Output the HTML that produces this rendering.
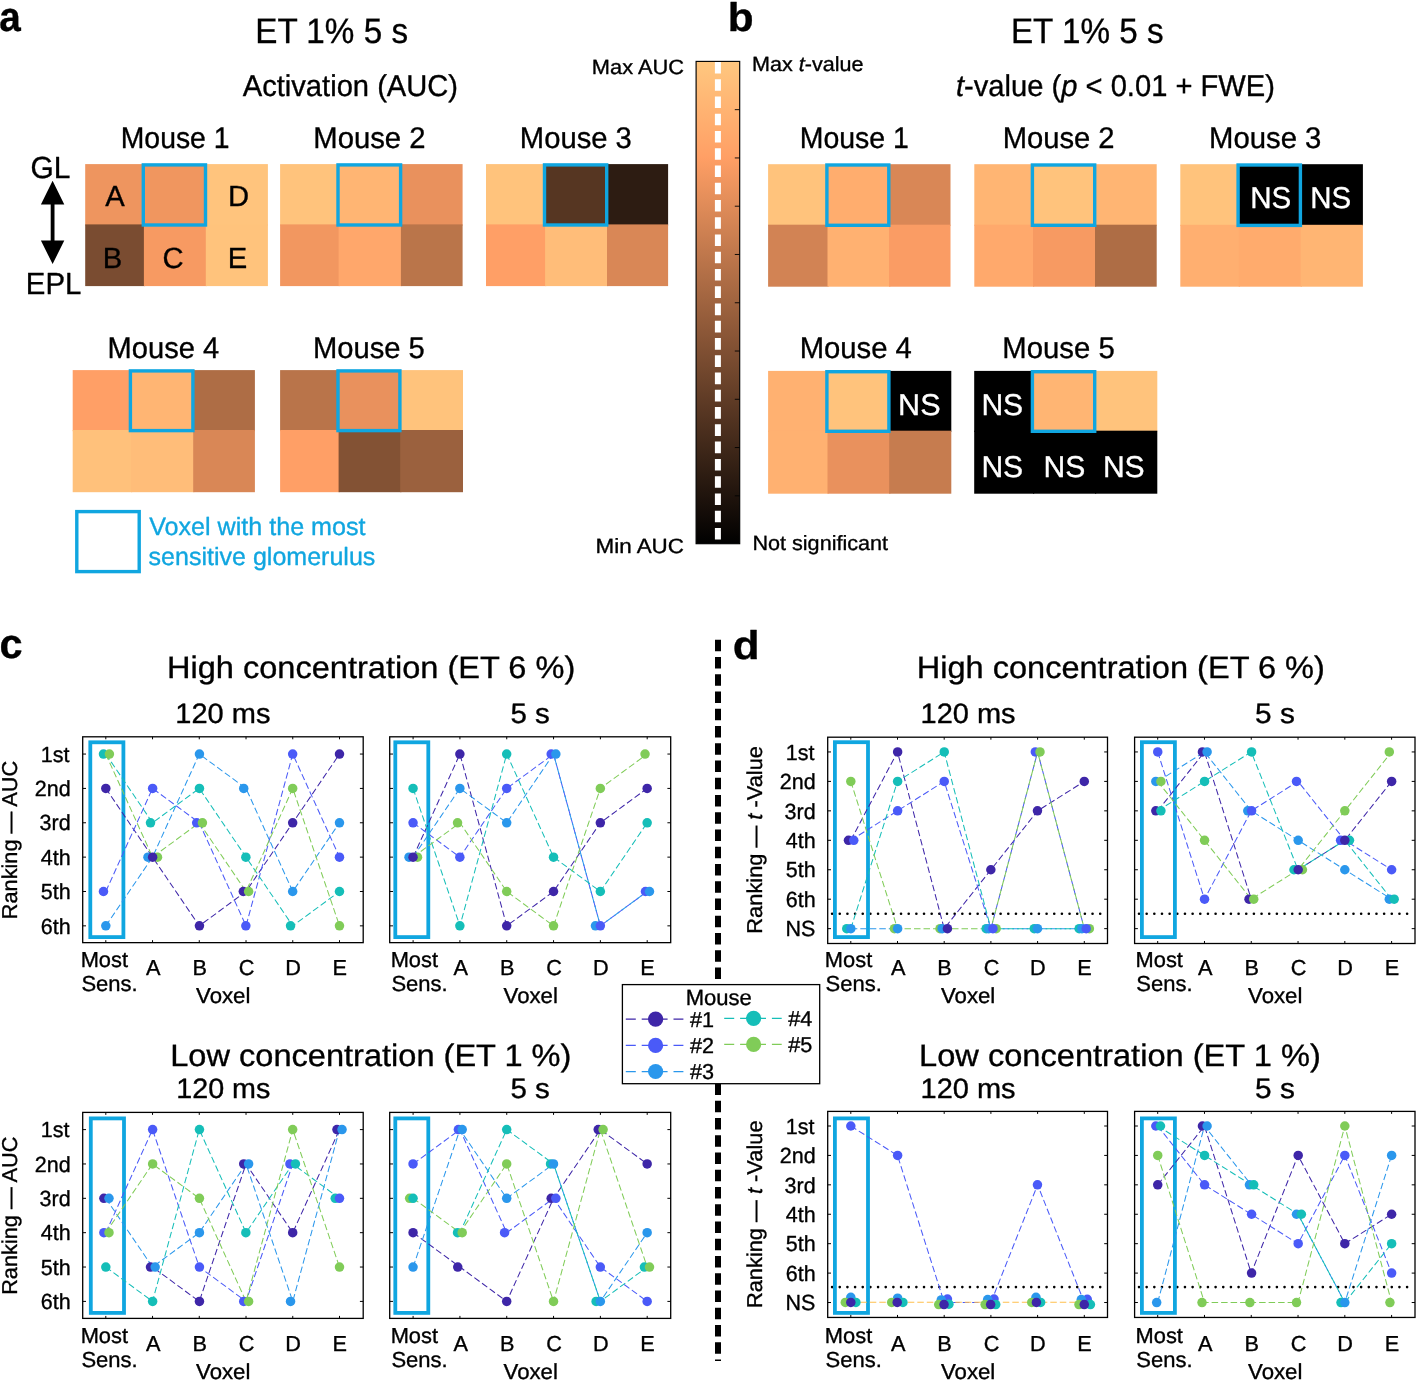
<!DOCTYPE html>
<html lang="en">
<head>
<meta charset="utf-8">
<title>Figure: voxel activation and ranking</title>
<style>
html,body{margin:0;padding:0;background:#fff;}
body{width:1416px;height:1380px;overflow:hidden;}
svg{display:block;font-family:"Liberation Sans", Arial, Helvetica, sans-serif;}
svg text{font-family:"Liberation Sans", Arial, Helvetica, sans-serif;text-rendering:geometricPrecision;stroke-width:0.35px;stroke-linejoin:round;}
</style>
</head>
<body>
<svg width="1416" height="1380" viewBox="0 0 1416 1380">
<defs>
<linearGradient id="copper" x1="0" y1="0" x2="0" y2="1">
<stop offset="0" stop-color="#ffc77f"/>
<stop offset="0.2" stop-color="#ff9f65"/>
<stop offset="1" stop-color="#000000"/>
</linearGradient>
</defs>
<rect x="0" y="0" width="1416" height="1380" fill="#ffffff"/>
<text transform="translate(0.30 30.90) scale(0.9368 1)" x="-1.24" y="0" font-size="41.3" fill="#000" stroke="#000" stroke-width="0.35" xml:space="preserve"><tspan font-weight="bold">a</tspan></text>
<text transform="translate(730.50 30.90) scale(1.0594 1)" x="-2.60" y="0" font-size="40.0" fill="#000" stroke="#000" stroke-width="0.35" xml:space="preserve"><tspan font-weight="bold">b</tspan></text>
<text transform="translate(1.10 657.60) scale(1.0035 1)" x="-1.65" y="0" font-size="41.3" fill="#000" stroke="#000" stroke-width="0.35" xml:space="preserve"><tspan font-weight="bold">c</tspan></text>
<text transform="translate(734.60 658.60) scale(1.0990 1)" x="-1.60" y="0" font-size="40.0" fill="#000" stroke="#000" stroke-width="0.35" xml:space="preserve"><tspan font-weight="bold">d</tspan></text>
<text transform="translate(257.90 42.60) scale(0.9395 1)" x="-2.83" y="0" font-size="35.4" fill="#000" stroke="#000" stroke-width="0.35" xml:space="preserve">ET 1% 5 s</text>
<text transform="translate(242.70 96.30) scale(0.9714 1)" x="-0.00" y="0" font-size="30.0" fill="#000" stroke="#000" stroke-width="0.35" xml:space="preserve">Activation (AUC)</text>
<text transform="translate(123.00 148.00) scale(0.9515 1)" x="-2.38" y="0" font-size="29.8" fill="#000" stroke="#000" stroke-width="0.35" xml:space="preserve">Mouse 1</text>
<text transform="translate(315.60 148.00) scale(0.9818 1)" x="-2.38" y="0" font-size="29.8" fill="#000" stroke="#000" stroke-width="0.35" xml:space="preserve">Mouse 2</text>
<text transform="translate(522.20 148.00) scale(0.9792 1)" x="-2.38" y="0" font-size="29.8" fill="#000" stroke="#000" stroke-width="0.35" xml:space="preserve">Mouse 3</text>
<text transform="translate(109.90 357.50) scale(0.9756 1)" x="-2.38" y="0" font-size="29.8" fill="#000" stroke="#000" stroke-width="0.35" xml:space="preserve">Mouse 4</text>
<text transform="translate(315.30 357.50) scale(0.9783 1)" x="-2.38" y="0" font-size="29.8" fill="#000" stroke="#000" stroke-width="0.35" xml:space="preserve">Mouse 5</text>
<rect x="85.20" y="164.10" width="59.90" height="61.50" fill="#ee955f"/>
<rect x="143.90" y="164.10" width="63.10" height="61.50" fill="#f0965f"/>
<rect x="205.80" y="164.10" width="62.10" height="61.50" fill="#ffc47d"/>
<rect x="85.20" y="224.40" width="59.90" height="61.70" fill="#7a4c31"/>
<rect x="143.90" y="224.40" width="63.10" height="61.70" fill="#f79a62"/>
<rect x="205.80" y="224.40" width="62.10" height="61.70" fill="#ffc37c"/>
<rect x="143.30" y="164.90" width="62.20" height="60.10" fill="none" stroke="#10a6e0" stroke-width="3.4"/>
<rect x="280.10" y="164.10" width="59.70" height="61.50" fill="#ffc37c"/>
<rect x="338.60" y="164.10" width="63.50" height="61.50" fill="#ffb573"/>
<rect x="400.90" y="164.10" width="61.70" height="61.50" fill="#e9915d"/>
<rect x="280.10" y="224.40" width="59.70" height="61.70" fill="#f29760"/>
<rect x="338.60" y="224.40" width="63.50" height="61.70" fill="#ffa76b"/>
<rect x="400.90" y="224.40" width="61.70" height="61.70" fill="#ba754a"/>
<rect x="338.00" y="164.90" width="62.60" height="60.10" fill="none" stroke="#10a6e0" stroke-width="3.4"/>
<rect x="486.00" y="164.10" width="60.30" height="61.50" fill="#ffc37c"/>
<rect x="545.10" y="164.10" width="63.10" height="61.50" fill="#563622"/>
<rect x="607.00" y="164.10" width="61.10" height="61.50" fill="#2d1c12"/>
<rect x="486.00" y="224.40" width="60.30" height="61.70" fill="#ff9f66"/>
<rect x="545.10" y="224.40" width="63.10" height="61.70" fill="#ffbd79"/>
<rect x="607.00" y="224.40" width="61.10" height="61.70" fill="#d98756"/>
<rect x="544.50" y="164.90" width="62.20" height="60.10" fill="none" stroke="#10a6e0" stroke-width="3.4"/>
<rect x="72.70" y="370.10" width="59.50" height="61.10" fill="#ff9f66"/>
<rect x="131.00" y="370.10" width="63.40" height="61.10" fill="#ffb573"/>
<rect x="193.20" y="370.10" width="61.70" height="61.10" fill="#ae6d45"/>
<rect x="72.70" y="430.00" width="59.50" height="62.20" fill="#ffc17b"/>
<rect x="131.00" y="430.00" width="63.40" height="62.20" fill="#ffbd79"/>
<rect x="193.20" y="430.00" width="61.70" height="62.20" fill="#d98756"/>
<rect x="130.40" y="370.90" width="62.50" height="59.70" fill="none" stroke="#10a6e0" stroke-width="3.4"/>
<rect x="280.10" y="370.10" width="59.70" height="61.10" fill="#b9744a"/>
<rect x="338.60" y="370.10" width="62.80" height="61.10" fill="#e9915d"/>
<rect x="400.20" y="370.10" width="62.80" height="61.10" fill="#ffc37c"/>
<rect x="280.10" y="430.00" width="59.70" height="62.20" fill="#ff9f66"/>
<rect x="338.60" y="430.00" width="62.80" height="62.20" fill="#835234"/>
<rect x="400.20" y="430.00" width="62.80" height="62.20" fill="#9b613e"/>
<rect x="338.00" y="370.90" width="61.90" height="59.70" fill="none" stroke="#10a6e0" stroke-width="3.4"/>
<text transform="translate(105.29 206.40) scale(1.0000 1)" x="-0.00" y="0" font-size="29.2" fill="#000" stroke="#000" stroke-width="0.35" xml:space="preserve">A</text>
<text transform="translate(230.21 206.40) scale(1.0000 1)" x="-2.34" y="0" font-size="29.2" fill="#000" stroke="#000" stroke-width="0.35" xml:space="preserve">D</text>
<text transform="translate(105.19 267.80) scale(1.0000 1)" x="-2.34" y="0" font-size="29.2" fill="#000" stroke="#000" stroke-width="0.35" xml:space="preserve">B</text>
<text transform="translate(163.83 267.80) scale(1.0000 1)" x="-1.46" y="0" font-size="29.2" fill="#000" stroke="#000" stroke-width="0.35" xml:space="preserve">C</text>
<text transform="translate(230.04 267.80) scale(1.0000 1)" x="-2.34" y="0" font-size="29.2" fill="#000" stroke="#000" stroke-width="0.35" xml:space="preserve">E</text>
<text transform="translate(32.00 177.80) scale(0.9797 1)" x="-1.53" y="0" font-size="30.5" fill="#000" stroke="#000" stroke-width="0.35" xml:space="preserve">GL</text>
<text transform="translate(28.20 293.90) scale(0.9633 1)" x="-2.44" y="0" font-size="30.5" fill="#000" stroke="#000" stroke-width="0.35" xml:space="preserve">EPL</text>
<path d="M52.6 180.8 L64.3 204.6 L54.5 204.6 L54.5 240.6 L64.3 240.6 L52.6 264 L40.9 240.6 L50.7 240.6 L50.7 204.6 L40.9 204.6 Z" fill="#000"/>
<rect x="76.8" y="511.6" width="62.4" height="60.0" fill="none" stroke="#10a6e0" stroke-width="3.4"/>
<text transform="translate(149.30 534.60) scale(1.0045 1)" x="-0.12" y="0" font-size="25" fill="#10a6e0" stroke="#10a6e0" stroke-width="0.2" xml:space="preserve">Voxel with the most</text>
<text transform="translate(149.30 564.60) scale(1.0014 1)" x="-0.75" y="0" font-size="25" fill="#10a6e0" stroke="#10a6e0" stroke-width="0.2" xml:space="preserve">sensitive glomerulus</text>
<rect x="696.1" y="61.4" width="43.60" height="482.30" fill="url(#copper)" stroke="#000" stroke-width="1.15"/>
<line x1="734.80" y1="495.83" x2="739.70" y2="495.83" stroke="#000" stroke-width="0.9"/>
<line x1="734.80" y1="447.56" x2="739.70" y2="447.56" stroke="#000" stroke-width="0.9"/>
<line x1="734.80" y1="399.29" x2="739.70" y2="399.29" stroke="#000" stroke-width="0.9"/>
<line x1="734.80" y1="351.02" x2="739.70" y2="351.02" stroke="#000" stroke-width="0.9"/>
<line x1="734.80" y1="302.75" x2="739.70" y2="302.75" stroke="#000" stroke-width="0.9"/>
<line x1="734.80" y1="254.48" x2="739.70" y2="254.48" stroke="#000" stroke-width="0.9"/>
<line x1="734.80" y1="206.21" x2="739.70" y2="206.21" stroke="#000" stroke-width="0.9"/>
<line x1="734.80" y1="157.94" x2="739.70" y2="157.94" stroke="#000" stroke-width="0.9"/>
<line x1="734.80" y1="109.67" x2="739.70" y2="109.67" stroke="#000" stroke-width="0.9"/>
<line x1="717.9" y1="61.9" x2="717.9" y2="543" stroke="#fff" stroke-width="6" stroke-dasharray="11.6 5.66"/>
<text transform="translate(593.60 73.90) scale(1.0596 1)" x="-1.65" y="0" font-size="20.6" fill="#000" stroke="#000" stroke-width="0.08" xml:space="preserve">Max AUC</text>
<text transform="translate(597.30 553.20) scale(1.0887 1)" x="-1.65" y="0" font-size="20.6" fill="#000" stroke="#000" stroke-width="0.08" xml:space="preserve">Min AUC</text>
<text transform="translate(753.70 71.20) scale(1.0470 1)" x="-1.65" y="0" font-size="20.6" fill="#000" stroke="#000" stroke-width="0.08" xml:space="preserve">Max <tspan font-style="italic">t</tspan>-value</text>
<text transform="translate(754.10 549.90) scale(1.0492 1)" x="-1.65" y="0" font-size="20.6" fill="#000" stroke="#000" stroke-width="0.08" xml:space="preserve">Not significant</text>
<text transform="translate(1013.60 42.60) scale(0.9395 1)" x="-2.83" y="0" font-size="35.4" fill="#000" stroke="#000" stroke-width="0.35" xml:space="preserve">ET 1% 5 s</text>
<text transform="translate(957.30 96.40) scale(0.9711 1)" x="-1.35" y="0" font-size="30.0" fill="#000" stroke="#000" stroke-width="0.35" xml:space="preserve"><tspan font-style="italic">t</tspan>-value (<tspan font-style="italic">p</tspan> &lt; 0.01 + FWE)</text>
<text transform="translate(802.00 148.00) scale(0.9552 1)" x="-2.38" y="0" font-size="29.8" fill="#000" stroke="#000" stroke-width="0.35" xml:space="preserve">Mouse 1</text>
<text transform="translate(1005.00 148.00) scale(0.9791 1)" x="-2.38" y="0" font-size="29.8" fill="#000" stroke="#000" stroke-width="0.35" xml:space="preserve">Mouse 2</text>
<text transform="translate(1211.30 148.00) scale(0.9837 1)" x="-2.38" y="0" font-size="29.8" fill="#000" stroke="#000" stroke-width="0.35" xml:space="preserve">Mouse 3</text>
<text transform="translate(802.00 357.50) scale(0.9810 1)" x="-2.38" y="0" font-size="29.8" fill="#000" stroke="#000" stroke-width="0.35" xml:space="preserve">Mouse 4</text>
<text transform="translate(1004.70 357.50) scale(0.9828 1)" x="-2.38" y="0" font-size="29.8" fill="#000" stroke="#000" stroke-width="0.35" xml:space="preserve">Mouse 5</text>
<rect x="768.10" y="164.20" width="60.60" height="61.70" fill="#ffc37c"/>
<rect x="827.50" y="164.20" width="62.80" height="61.70" fill="#ffad6e"/>
<rect x="889.10" y="164.20" width="61.40" height="61.70" fill="#d98756"/>
<rect x="768.10" y="224.70" width="60.60" height="62.00" fill="#d28354"/>
<rect x="827.50" y="224.70" width="62.80" height="62.00" fill="#ffb171"/>
<rect x="889.10" y="224.70" width="61.40" height="62.00" fill="#fa9c64"/>
<rect x="826.90" y="165.00" width="61.90" height="60.30" fill="none" stroke="#10a6e0" stroke-width="3.4"/>
<rect x="974.30" y="164.20" width="59.90" height="61.70" fill="#ffb573"/>
<rect x="1033.00" y="164.20" width="63.20" height="61.70" fill="#ffc37c"/>
<rect x="1095.00" y="164.20" width="61.70" height="61.70" fill="#ffb573"/>
<rect x="974.30" y="224.70" width="59.90" height="62.00" fill="#ffa96c"/>
<rect x="1033.00" y="224.70" width="63.20" height="62.00" fill="#f79a62"/>
<rect x="1095.00" y="224.70" width="61.70" height="62.00" fill="#ae6d45"/>
<rect x="1032.40" y="165.00" width="62.30" height="60.30" fill="none" stroke="#10a6e0" stroke-width="3.4"/>
<rect x="1180.30" y="164.20" width="59.60" height="61.80" fill="#ffc37c"/>
<rect x="1238.70" y="164.20" width="63.20" height="61.80" fill="#000"/>
<rect x="1300.70" y="164.20" width="62.20" height="61.80" fill="#000"/>
<rect x="1180.30" y="224.80" width="59.60" height="61.90" fill="#ffaf70"/>
<rect x="1238.70" y="224.80" width="63.20" height="61.90" fill="#ffab6d"/>
<rect x="1300.70" y="224.80" width="62.20" height="61.90" fill="#ffb573"/>
<rect x="1238.10" y="165.00" width="62.30" height="60.40" fill="none" stroke="#10a6e0" stroke-width="3.4"/>
<rect x="768.10" y="370.90" width="60.60" height="61.00" fill="#ffb171"/>
<rect x="827.50" y="370.90" width="62.90" height="61.00" fill="#ffc37c"/>
<rect x="889.20" y="370.90" width="62.10" height="61.00" fill="#000"/>
<rect x="768.10" y="430.70" width="60.60" height="63.00" fill="#ffb171"/>
<rect x="827.50" y="430.70" width="62.90" height="63.00" fill="#e9915d"/>
<rect x="889.20" y="430.70" width="62.10" height="63.00" fill="#c67c4f"/>
<rect x="826.90" y="371.70" width="62.00" height="59.60" fill="none" stroke="#10a6e0" stroke-width="3.4"/>
<rect x="974.20" y="370.90" width="60.00" height="61.00" fill="#000"/>
<rect x="1033.00" y="370.90" width="63.20" height="61.00" fill="#ffb573"/>
<rect x="1095.00" y="370.90" width="62.30" height="61.00" fill="#ffc37c"/>
<rect x="974.20" y="430.70" width="60.00" height="63.00" fill="#000"/>
<rect x="1033.00" y="430.70" width="63.20" height="63.00" fill="#000"/>
<rect x="1095.00" y="430.70" width="62.30" height="63.00" fill="#000"/>
<rect x="1032.40" y="371.70" width="62.30" height="59.60" fill="none" stroke="#10a6e0" stroke-width="3.4"/>
<text transform="translate(1252.60 208.00) scale(0.9841 1)" x="-2.40" y="0" font-size="30" fill="#fff" stroke="#fff" stroke-width="0.35" xml:space="preserve">NS</text>
<text transform="translate(1312.50 208.00) scale(0.9815 1)" x="-2.40" y="0" font-size="30" fill="#fff" stroke="#fff" stroke-width="0.35" xml:space="preserve">NS</text>
<text transform="translate(900.50 415.30) scale(1.0185 1)" x="-2.40" y="0" font-size="30" fill="#fff" stroke="#fff" stroke-width="0.35" xml:space="preserve">NS</text>
<text transform="translate(983.80 415.30) scale(1.0026 1)" x="-2.40" y="0" font-size="30" fill="#fff" stroke="#fff" stroke-width="0.35" xml:space="preserve">NS</text>
<text transform="translate(983.80 476.70) scale(1.0026 1)" x="-2.40" y="0" font-size="30" fill="#fff" stroke="#fff" stroke-width="0.35" xml:space="preserve">NS</text>
<text transform="translate(1045.90 476.70) scale(1.0026 1)" x="-2.40" y="0" font-size="30" fill="#fff" stroke="#fff" stroke-width="0.35" xml:space="preserve">NS</text>
<text transform="translate(1105.30 476.70) scale(1.0026 1)" x="-2.40" y="0" font-size="30" fill="#fff" stroke="#fff" stroke-width="0.35" xml:space="preserve">NS</text>
<line x1="718.0" y1="639.8" x2="718.0" y2="984.6" stroke="#000" stroke-width="6" stroke-dasharray="11.55 5.695"/>
<line x1="718.0" y1="1083.5" x2="718.0" y2="1361.1" stroke="#000" stroke-width="6" stroke-dasharray="11.55 5.695"/>
<text transform="translate(169.60 678.00) scale(1.0499 1)" x="-2.48" y="0" font-size="31" fill="#000" stroke="#000" stroke-width="0.35" xml:space="preserve">High concentration (ET 6 %)</text>
<text transform="translate(919.30 678.00) scale(1.0497 1)" x="-2.48" y="0" font-size="31" fill="#000" stroke="#000" stroke-width="0.35" xml:space="preserve">High concentration (ET 6 %)</text>
<text transform="translate(172.80 1066.20) scale(1.0504 1)" x="-2.48" y="0" font-size="31" fill="#000" stroke="#000" stroke-width="0.35" xml:space="preserve">Low concentration (ET 1 %)</text>
<text transform="translate(921.60 1066.20) scale(1.0520 1)" x="-2.48" y="0" font-size="31" fill="#000" stroke="#000" stroke-width="0.35" xml:space="preserve">Low concentration (ET 1 %)</text>
<rect x="82.70" y="736.80" width="280.50" height="205.85" fill="#fff"/>
<rect x="90.30" y="742.30" width="33.10" height="194.80" fill="none" stroke="#10a6e0" stroke-width="3.8"/>
<line x1="105.80" y1="788.41" x2="152.54" y2="857.13" stroke="#3e26a8" stroke-width="1.03" stroke-dasharray="6.5 3.0" stroke-dashoffset="0.00"/>
<line x1="152.54" y1="857.13" x2="199.28" y2="925.85" stroke="#3e26a8" stroke-width="1.03" stroke-dasharray="6.5 3.0" stroke-dashoffset="7.11"/>
<line x1="199.28" y1="925.85" x2="246.02" y2="891.49" stroke="#3e26a8" stroke-width="1.03" stroke-dasharray="6.5 3.0" stroke-dashoffset="4.72"/>
<line x1="246.02" y1="891.49" x2="292.76" y2="822.77" stroke="#3e26a8" stroke-width="1.03" stroke-dasharray="6.5 3.0" stroke-dashoffset="5.73"/>
<line x1="292.76" y1="822.77" x2="339.50" y2="754.05" stroke="#3e26a8" stroke-width="1.03" stroke-dasharray="6.5 3.0" stroke-dashoffset="3.34"/>
<line x1="105.80" y1="891.49" x2="152.54" y2="788.41" stroke="#4a5af8" stroke-width="1.03" stroke-dasharray="6.5 3.0" stroke-dashoffset="0.00"/>
<line x1="152.54" y1="788.41" x2="199.28" y2="822.77" stroke="#4a5af8" stroke-width="1.03" stroke-dasharray="6.5 3.0" stroke-dashoffset="8.68"/>
<line x1="199.28" y1="822.77" x2="246.02" y2="925.85" stroke="#4a5af8" stroke-width="1.03" stroke-dasharray="6.5 3.0" stroke-dashoffset="0.19"/>
<line x1="246.02" y1="925.85" x2="292.76" y2="754.05" stroke="#4a5af8" stroke-width="1.03" stroke-dasharray="6.5 3.0" stroke-dashoffset="8.87"/>
<line x1="292.76" y1="754.05" x2="339.50" y2="857.13" stroke="#4a5af8" stroke-width="1.03" stroke-dasharray="6.5 3.0" stroke-dashoffset="6.42"/>
<line x1="105.80" y1="925.85" x2="152.54" y2="857.13" stroke="#2a97ec" stroke-width="1.03" stroke-dasharray="6.5 3.0" stroke-dashoffset="0.00"/>
<line x1="152.54" y1="857.13" x2="199.28" y2="754.05" stroke="#2a97ec" stroke-width="1.03" stroke-dasharray="6.5 3.0" stroke-dashoffset="7.11"/>
<line x1="199.28" y1="754.05" x2="246.02" y2="788.41" stroke="#2a97ec" stroke-width="1.03" stroke-dasharray="6.5 3.0" stroke-dashoffset="6.29"/>
<line x1="246.02" y1="788.41" x2="292.76" y2="891.49" stroke="#2a97ec" stroke-width="1.03" stroke-dasharray="6.5 3.0" stroke-dashoffset="7.30"/>
<line x1="292.76" y1="891.49" x2="339.50" y2="822.77" stroke="#2a97ec" stroke-width="1.03" stroke-dasharray="6.5 3.0" stroke-dashoffset="6.48"/>
<line x1="105.80" y1="754.05" x2="152.54" y2="822.77" stroke="#15beb8" stroke-width="1.03" stroke-dasharray="6.5 3.0" stroke-dashoffset="0.00"/>
<line x1="152.54" y1="822.77" x2="199.28" y2="788.41" stroke="#15beb8" stroke-width="1.03" stroke-dasharray="6.5 3.0" stroke-dashoffset="7.11"/>
<line x1="199.28" y1="788.41" x2="246.02" y2="857.13" stroke="#15beb8" stroke-width="1.03" stroke-dasharray="6.5 3.0" stroke-dashoffset="8.12"/>
<line x1="246.02" y1="857.13" x2="292.76" y2="925.85" stroke="#15beb8" stroke-width="1.03" stroke-dasharray="6.5 3.0" stroke-dashoffset="5.73"/>
<line x1="292.76" y1="925.85" x2="339.50" y2="891.49" stroke="#15beb8" stroke-width="1.03" stroke-dasharray="6.5 3.0" stroke-dashoffset="3.34"/>
<line x1="105.80" y1="754.05" x2="152.54" y2="857.13" stroke="#80cc58" stroke-width="1.03" stroke-dasharray="6.5 3.0" stroke-dashoffset="0.00"/>
<line x1="152.54" y1="857.13" x2="199.28" y2="822.77" stroke="#80cc58" stroke-width="1.03" stroke-dasharray="6.5 3.0" stroke-dashoffset="8.68"/>
<line x1="199.28" y1="822.77" x2="246.02" y2="891.49" stroke="#80cc58" stroke-width="1.03" stroke-dasharray="6.5 3.0" stroke-dashoffset="0.19"/>
<line x1="246.02" y1="891.49" x2="292.76" y2="788.41" stroke="#80cc58" stroke-width="1.03" stroke-dasharray="6.5 3.0" stroke-dashoffset="7.30"/>
<line x1="292.76" y1="788.41" x2="339.50" y2="925.85" stroke="#80cc58" stroke-width="1.03" stroke-dasharray="6.5 3.0" stroke-dashoffset="6.48"/>
<circle cx="105.81" cy="788.41" r="4.75" fill="#3e26a8"/>
<circle cx="103.47" cy="891.49" r="4.75" fill="#4a5af8"/>
<circle cx="105.81" cy="925.85" r="4.75" fill="#2a97ec"/>
<circle cx="103.47" cy="754.05" r="4.75" fill="#15beb8"/>
<circle cx="109.41" cy="754.05" r="4.75" fill="#80cc58"/>
<circle cx="152.63" cy="788.41" r="4.75" fill="#4a5af8"/>
<circle cx="147.97" cy="857.13" r="4.75" fill="#2a97ec"/>
<circle cx="150.51" cy="822.77" r="4.75" fill="#15beb8"/>
<circle cx="157.50" cy="857.13" r="4.75" fill="#80cc58"/>
<circle cx="152.63" cy="857.13" r="4.75" fill="#3e26a8"/>
<circle cx="199.45" cy="925.85" r="4.75" fill="#3e26a8"/>
<circle cx="196.69" cy="822.77" r="4.75" fill="#4a5af8"/>
<circle cx="199.45" cy="754.05" r="4.75" fill="#2a97ec"/>
<circle cx="199.45" cy="788.41" r="4.75" fill="#15beb8"/>
<circle cx="202.42" cy="822.77" r="4.75" fill="#80cc58"/>
<circle cx="243.31" cy="891.49" r="4.75" fill="#3e26a8"/>
<circle cx="245.85" cy="925.85" r="4.75" fill="#4a5af8"/>
<circle cx="243.73" cy="788.41" r="4.75" fill="#2a97ec"/>
<circle cx="245.85" cy="857.13" r="4.75" fill="#15beb8"/>
<circle cx="248.60" cy="891.49" r="4.75" fill="#80cc58"/>
<circle cx="292.67" cy="822.77" r="4.75" fill="#3e26a8"/>
<circle cx="292.67" cy="754.05" r="4.75" fill="#4a5af8"/>
<circle cx="292.67" cy="891.49" r="4.75" fill="#2a97ec"/>
<circle cx="290.55" cy="925.85" r="4.75" fill="#15beb8"/>
<circle cx="292.67" cy="788.41" r="4.75" fill="#80cc58"/>
<circle cx="339.49" cy="754.05" r="4.75" fill="#3e26a8"/>
<circle cx="339.49" cy="857.13" r="4.75" fill="#4a5af8"/>
<circle cx="339.49" cy="822.77" r="4.75" fill="#2a97ec"/>
<circle cx="339.49" cy="891.49" r="4.75" fill="#15beb8"/>
<circle cx="339.49" cy="925.85" r="4.75" fill="#80cc58"/>
<rect x="82.70" y="736.80" width="280.50" height="205.85" fill="none" stroke="#000" stroke-width="1.3"/>
<path d="M105.80 736.80v2.5 M105.80 942.65v-2.5 M152.54 736.80v2.5 M152.54 942.65v-2.5 M199.28 736.80v2.5 M199.28 942.65v-2.5 M246.02 736.80v2.5 M246.02 942.65v-2.5 M292.76 736.80v2.5 M292.76 942.65v-2.5 M339.50 736.80v2.5 M339.50 942.65v-2.5 M82.70 754.05h3.3 M363.20 754.05h-3.3 M82.70 788.41h3.3 M363.20 788.41h-3.3 M82.70 822.77h3.3 M363.20 822.77h-3.3 M82.70 857.13h3.3 M363.20 857.13h-3.3 M82.70 891.49h3.3 M363.20 891.49h-3.3 M82.70 925.85h3.3 M363.20 925.85h-3.3 " stroke="#000" stroke-width="1" fill="none"/>
<text transform="translate(82.40 967.40) scale(1.0081 1)" x="-1.74" y="0" font-size="21.7" fill="#000" stroke="#000" stroke-width="0.08" xml:space="preserve">Most</text>
<text transform="translate(82.40 991.40) scale(1.0150 1)" x="-0.98" y="0" font-size="21.7" fill="#000" stroke="#000" stroke-width="0.08" xml:space="preserve">Sens.</text>
<text transform="translate(146.02 975.00) scale(1.0000 1)" x="-0.00" y="0" font-size="21.7" fill="#000" stroke="#000" stroke-width="0.08" xml:space="preserve">A</text>
<text transform="translate(194.18 975.00) scale(1.0000 1)" x="-1.74" y="0" font-size="21.7" fill="#000" stroke="#000" stroke-width="0.08" xml:space="preserve">B</text>
<text transform="translate(239.83 975.00) scale(1.0000 1)" x="-1.08" y="0" font-size="21.7" fill="#000" stroke="#000" stroke-width="0.08" xml:space="preserve">C</text>
<text transform="translate(287.00 975.00) scale(1.0000 1)" x="-1.74" y="0" font-size="21.7" fill="#000" stroke="#000" stroke-width="0.08" xml:space="preserve">D</text>
<text transform="translate(334.29 975.00) scale(1.0000 1)" x="-1.74" y="0" font-size="21.7" fill="#000" stroke="#000" stroke-width="0.08" xml:space="preserve">E</text>
<text transform="translate(196.15 1003.30) scale(1.0245 1)" x="-0.11" y="0" font-size="21.7" fill="#000" stroke="#000" stroke-width="0.08" xml:space="preserve">Voxel</text>
<text transform="translate(42.36 761.75) scale(0.9850 1)" x="-1.64" y="0" font-size="21.8" fill="#000" stroke="#000" stroke-width="0.08" xml:space="preserve">1st</text>
<text transform="translate(35.92 796.11) scale(0.9850 1)" x="-1.09" y="0" font-size="21.8" fill="#000" stroke="#000" stroke-width="0.08" xml:space="preserve">2nd</text>
<text transform="translate(40.43 830.47) scale(0.9850 1)" x="-0.87" y="0" font-size="21.8" fill="#000" stroke="#000" stroke-width="0.08" xml:space="preserve">3rd</text>
<text transform="translate(41.18 864.83) scale(0.9850 1)" x="-0.44" y="0" font-size="21.8" fill="#000" stroke="#000" stroke-width="0.08" xml:space="preserve">4th</text>
<text transform="translate(41.61 899.19) scale(0.9850 1)" x="-0.87" y="0" font-size="21.8" fill="#000" stroke="#000" stroke-width="0.08" xml:space="preserve">5th</text>
<text transform="translate(41.82 933.55) scale(0.9850 1)" x="-1.09" y="0" font-size="21.8" fill="#000" stroke="#000" stroke-width="0.08" xml:space="preserve">6th</text>
<text transform="translate(16.70 917.50) rotate(-90) scale(1.0114 1)" x="-1.72" y="0" font-size="21.5" fill="#000" stroke="#000" stroke-width="0.08" xml:space="preserve">Ranking — AUC</text>
<text transform="translate(177.50 722.90) scale(1.0365 1)" x="-2.10" y="0" font-size="28" fill="#000" stroke="#000" stroke-width="0.35" xml:space="preserve">120 ms</text>
<rect x="389.70" y="736.80" width="281.00" height="205.85" fill="#fff"/>
<rect x="395.30" y="742.30" width="33.00" height="194.80" fill="none" stroke="#10a6e0" stroke-width="3.8"/>
<line x1="413.10" y1="857.13" x2="459.92" y2="754.05" stroke="#3e26a8" stroke-width="1.03" stroke-dasharray="6.5 3.0" stroke-dashoffset="0.00"/>
<line x1="459.92" y1="754.05" x2="506.74" y2="925.85" stroke="#3e26a8" stroke-width="1.03" stroke-dasharray="6.5 3.0" stroke-dashoffset="8.71"/>
<line x1="506.74" y1="925.85" x2="553.56" y2="891.49" stroke="#3e26a8" stroke-width="1.03" stroke-dasharray="6.5 3.0" stroke-dashoffset="6.28"/>
<line x1="553.56" y1="891.49" x2="600.38" y2="822.77" stroke="#3e26a8" stroke-width="1.03" stroke-dasharray="6.5 3.0" stroke-dashoffset="7.36"/>
<line x1="600.38" y1="822.77" x2="647.20" y2="788.41" stroke="#3e26a8" stroke-width="1.03" stroke-dasharray="6.5 3.0" stroke-dashoffset="5.01"/>
<line x1="413.10" y1="822.77" x2="459.92" y2="857.13" stroke="#4a5af8" stroke-width="1.03" stroke-dasharray="6.5 3.0" stroke-dashoffset="0.00"/>
<line x1="459.92" y1="857.13" x2="506.74" y2="788.41" stroke="#4a5af8" stroke-width="1.03" stroke-dasharray="6.5 3.0" stroke-dashoffset="1.08"/>
<line x1="506.74" y1="788.41" x2="553.56" y2="754.05" stroke="#4a5af8" stroke-width="1.03" stroke-dasharray="6.5 3.0" stroke-dashoffset="8.23"/>
<line x1="553.56" y1="754.05" x2="600.38" y2="925.85" stroke="#4a5af8" stroke-width="1.03" stroke-dasharray="6.5 3.0" stroke-dashoffset="9.30"/>
<line x1="600.38" y1="925.85" x2="647.20" y2="891.49" stroke="#4a5af8" stroke-width="1.03" stroke-dasharray="6.5 3.0" stroke-dashoffset="6.87"/>
<line x1="413.10" y1="857.13" x2="459.92" y2="788.41" stroke="#2a97ec" stroke-width="1.03" stroke-dasharray="6.5 3.0" stroke-dashoffset="0.00"/>
<line x1="459.92" y1="788.41" x2="506.74" y2="822.77" stroke="#2a97ec" stroke-width="1.03" stroke-dasharray="6.5 3.0" stroke-dashoffset="7.15"/>
<line x1="506.74" y1="822.77" x2="553.56" y2="754.05" stroke="#2a97ec" stroke-width="1.03" stroke-dasharray="6.5 3.0" stroke-dashoffset="8.23"/>
<line x1="553.56" y1="754.05" x2="600.38" y2="925.85" stroke="#2a97ec" stroke-width="1.03" stroke-dasharray="6.5 3.0" stroke-dashoffset="4.55"/>
<line x1="600.38" y1="925.85" x2="647.20" y2="891.49" stroke="#2a97ec" stroke-width="1.03" stroke-dasharray="6.5 3.0" stroke-dashoffset="2.12"/>
<line x1="413.10" y1="788.41" x2="459.92" y2="925.85" stroke="#15beb8" stroke-width="1.03" stroke-dasharray="6.5 3.0" stroke-dashoffset="0.00"/>
<line x1="459.92" y1="925.85" x2="506.74" y2="754.05" stroke="#15beb8" stroke-width="1.03" stroke-dasharray="6.5 3.0" stroke-dashoffset="2.70"/>
<line x1="506.74" y1="754.05" x2="553.56" y2="857.13" stroke="#15beb8" stroke-width="1.03" stroke-dasharray="6.5 3.0" stroke-dashoffset="0.26"/>
<line x1="553.56" y1="857.13" x2="600.38" y2="891.49" stroke="#15beb8" stroke-width="1.03" stroke-dasharray="6.5 3.0" stroke-dashoffset="8.98"/>
<line x1="600.38" y1="891.49" x2="647.20" y2="822.77" stroke="#15beb8" stroke-width="1.03" stroke-dasharray="6.5 3.0" stroke-dashoffset="0.55"/>
<line x1="413.10" y1="857.13" x2="459.92" y2="822.77" stroke="#80cc58" stroke-width="1.03" stroke-dasharray="6.5 3.0" stroke-dashoffset="0.00"/>
<line x1="459.92" y1="822.77" x2="506.74" y2="891.49" stroke="#80cc58" stroke-width="1.03" stroke-dasharray="6.5 3.0" stroke-dashoffset="1.08"/>
<line x1="506.74" y1="891.49" x2="553.56" y2="925.85" stroke="#80cc58" stroke-width="1.03" stroke-dasharray="6.5 3.0" stroke-dashoffset="8.23"/>
<line x1="553.56" y1="925.85" x2="600.38" y2="788.41" stroke="#80cc58" stroke-width="1.03" stroke-dasharray="6.5 3.0" stroke-dashoffset="9.30"/>
<line x1="600.38" y1="788.41" x2="647.20" y2="754.05" stroke="#80cc58" stroke-width="1.03" stroke-dasharray="6.5 3.0" stroke-dashoffset="2.50"/>
<circle cx="413.05" cy="822.77" r="4.75" fill="#4a5af8"/>
<circle cx="409.03" cy="857.13" r="4.75" fill="#2a97ec"/>
<circle cx="413.05" cy="788.41" r="4.75" fill="#15beb8"/>
<circle cx="417.50" cy="857.13" r="4.75" fill="#80cc58"/>
<circle cx="413.05" cy="857.13" r="4.75" fill="#3e26a8"/>
<circle cx="459.87" cy="754.05" r="4.75" fill="#3e26a8"/>
<circle cx="459.87" cy="857.13" r="4.75" fill="#4a5af8"/>
<circle cx="459.87" cy="788.41" r="4.75" fill="#2a97ec"/>
<circle cx="459.87" cy="925.85" r="4.75" fill="#15beb8"/>
<circle cx="457.54" cy="822.77" r="4.75" fill="#80cc58"/>
<circle cx="506.69" cy="925.85" r="4.75" fill="#3e26a8"/>
<circle cx="506.69" cy="788.41" r="4.75" fill="#4a5af8"/>
<circle cx="506.69" cy="822.77" r="4.75" fill="#2a97ec"/>
<circle cx="506.69" cy="754.05" r="4.75" fill="#15beb8"/>
<circle cx="506.69" cy="891.49" r="4.75" fill="#80cc58"/>
<circle cx="553.52" cy="891.49" r="4.75" fill="#3e26a8"/>
<circle cx="551.19" cy="754.05" r="4.75" fill="#4a5af8"/>
<circle cx="555.85" cy="754.05" r="4.75" fill="#2a97ec"/>
<circle cx="553.52" cy="857.13" r="4.75" fill="#15beb8"/>
<circle cx="553.52" cy="925.85" r="4.75" fill="#80cc58"/>
<circle cx="600.34" cy="822.77" r="4.75" fill="#3e26a8"/>
<circle cx="595.47" cy="925.85" r="4.75" fill="#2a97ec"/>
<circle cx="600.34" cy="891.49" r="4.75" fill="#15beb8"/>
<circle cx="600.34" cy="788.41" r="4.75" fill="#80cc58"/>
<circle cx="600.34" cy="925.85" r="4.75" fill="#4a5af8"/>
<circle cx="647.16" cy="788.41" r="4.75" fill="#3e26a8"/>
<circle cx="645.47" cy="891.49" r="4.75" fill="#4a5af8"/>
<circle cx="649.49" cy="891.49" r="4.75" fill="#2a97ec"/>
<circle cx="647.16" cy="822.77" r="4.75" fill="#15beb8"/>
<circle cx="645.04" cy="754.05" r="4.75" fill="#80cc58"/>
<rect x="389.70" y="736.80" width="281.00" height="205.85" fill="none" stroke="#000" stroke-width="1.3"/>
<path d="M413.10 736.80v2.5 M413.10 942.65v-2.5 M459.92 736.80v2.5 M459.92 942.65v-2.5 M506.74 736.80v2.5 M506.74 942.65v-2.5 M553.56 736.80v2.5 M553.56 942.65v-2.5 M600.38 736.80v2.5 M600.38 942.65v-2.5 M647.20 736.80v2.5 M647.20 942.65v-2.5 M389.70 754.05h3.3 M670.70 754.05h-3.3 M389.70 788.41h3.3 M670.70 788.41h-3.3 M389.70 822.77h3.3 M670.70 822.77h-3.3 M389.70 857.13h3.3 M670.70 857.13h-3.3 M389.70 891.49h3.3 M670.70 891.49h-3.3 M389.70 925.85h3.3 M670.70 925.85h-3.3 " stroke="#000" stroke-width="1" fill="none"/>
<text transform="translate(392.40 967.40) scale(1.0081 1)" x="-1.74" y="0" font-size="21.7" fill="#000" stroke="#000" stroke-width="0.08" xml:space="preserve">Most</text>
<text transform="translate(392.40 991.40) scale(1.0150 1)" x="-0.98" y="0" font-size="21.7" fill="#000" stroke="#000" stroke-width="0.08" xml:space="preserve">Sens.</text>
<text transform="translate(453.40 975.00) scale(1.0000 1)" x="-0.00" y="0" font-size="21.7" fill="#000" stroke="#000" stroke-width="0.08" xml:space="preserve">A</text>
<text transform="translate(501.64 975.00) scale(1.0000 1)" x="-1.74" y="0" font-size="21.7" fill="#000" stroke="#000" stroke-width="0.08" xml:space="preserve">B</text>
<text transform="translate(547.37 975.00) scale(1.0000 1)" x="-1.08" y="0" font-size="21.7" fill="#000" stroke="#000" stroke-width="0.08" xml:space="preserve">C</text>
<text transform="translate(594.62 975.00) scale(1.0000 1)" x="-1.74" y="0" font-size="21.7" fill="#000" stroke="#000" stroke-width="0.08" xml:space="preserve">D</text>
<text transform="translate(641.99 975.00) scale(1.0000 1)" x="-1.74" y="0" font-size="21.7" fill="#000" stroke="#000" stroke-width="0.08" xml:space="preserve">E</text>
<text transform="translate(503.65 1003.30) scale(1.0245 1)" x="-0.11" y="0" font-size="21.7" fill="#000" stroke="#000" stroke-width="0.08" xml:space="preserve">Voxel</text>
<text transform="translate(511.60 722.90) scale(1.0544 1)" x="-1.12" y="0" font-size="28" fill="#000" stroke="#000" stroke-width="0.35" xml:space="preserve">5 s</text>
<rect x="827.70" y="737.20" width="279.80" height="206.30" fill="#fff"/>
<line x1="832.10" y1="913.80" x2="1104.50" y2="913.80" stroke="#000" stroke-width="2.6" stroke-linecap="round" stroke-dasharray="0.01 7.65"/>
<rect x="834.90" y="742.20" width="33.10" height="194.90" fill="none" stroke="#10a6e0" stroke-width="3.8"/>
<line x1="850.80" y1="840.30" x2="897.50" y2="751.95" stroke="#3e26a8" stroke-width="1.03" stroke-dasharray="6.5 3.0" stroke-dashoffset="0.00"/>
<line x1="897.50" y1="751.95" x2="944.20" y2="928.65" stroke="#3e26a8" stroke-width="1.03" stroke-dasharray="6.5 3.0" stroke-dashoffset="4.93"/>
<line x1="944.20" y1="928.65" x2="990.90" y2="869.75" stroke="#3e26a8" stroke-width="1.03" stroke-dasharray="6.5 3.0" stroke-dashoffset="7.20"/>
<line x1="990.90" y1="869.75" x2="1037.60" y2="810.85" stroke="#3e26a8" stroke-width="1.03" stroke-dasharray="6.5 3.0" stroke-dashoffset="6.37"/>
<line x1="1037.60" y1="810.85" x2="1084.30" y2="781.40" stroke="#3e26a8" stroke-width="1.03" stroke-dasharray="6.5 3.0" stroke-dashoffset="5.53"/>
<line x1="850.80" y1="840.30" x2="897.50" y2="810.85" stroke="#4a5af8" stroke-width="1.03" stroke-dasharray="6.5 3.0" stroke-dashoffset="0.00"/>
<line x1="897.50" y1="810.85" x2="944.20" y2="781.40" stroke="#4a5af8" stroke-width="1.03" stroke-dasharray="6.5 3.0" stroke-dashoffset="7.71"/>
<line x1="944.20" y1="781.40" x2="990.90" y2="928.65" stroke="#4a5af8" stroke-width="1.03" stroke-dasharray="6.5 3.0" stroke-dashoffset="5.92"/>
<line x1="990.90" y1="928.65" x2="1037.60" y2="751.95" stroke="#4a5af8" stroke-width="1.03" stroke-dasharray="6.5 3.0" stroke-dashoffset="8.40"/>
<line x1="1037.60" y1="751.95" x2="1084.30" y2="928.65" stroke="#4a5af8" stroke-width="1.03" stroke-dasharray="6.5 3.0" stroke-dashoffset="1.17"/>
<line x1="850.80" y1="928.65" x2="897.50" y2="928.65" stroke="#2a97ec" stroke-width="1.03" stroke-dasharray="6.5 3.0" stroke-dashoffset="0.00"/>
<line x1="990.90" y1="928.65" x2="1037.60" y2="928.65" stroke="#2a97ec" stroke-width="1.03" stroke-dasharray="6.5 3.0" stroke-dashoffset="7.10"/>
<line x1="1037.60" y1="928.65" x2="1084.30" y2="928.65" stroke="#2a97ec" stroke-width="1.03" stroke-dasharray="6.5 3.0" stroke-dashoffset="6.30"/>
<line x1="850.80" y1="928.65" x2="897.50" y2="781.40" stroke="#15beb8" stroke-width="1.03" stroke-dasharray="6.5 3.0" stroke-dashoffset="0.00"/>
<line x1="897.50" y1="781.40" x2="944.20" y2="751.95" stroke="#15beb8" stroke-width="1.03" stroke-dasharray="6.5 3.0" stroke-dashoffset="2.48"/>
<line x1="944.20" y1="751.95" x2="990.90" y2="928.65" stroke="#15beb8" stroke-width="1.03" stroke-dasharray="6.5 3.0" stroke-dashoffset="0.69"/>
<line x1="990.90" y1="928.65" x2="1037.60" y2="928.65" stroke="#15beb8" stroke-width="1.03" stroke-dasharray="6.5 3.0" stroke-dashoffset="2.35"/>
<line x1="1037.60" y1="928.65" x2="1084.30" y2="928.65" stroke="#15beb8" stroke-width="1.03" stroke-dasharray="6.5 3.0" stroke-dashoffset="1.55"/>
<line x1="850.80" y1="781.40" x2="897.50" y2="928.65" stroke="#80cc58" stroke-width="1.03" stroke-dasharray="6.5 3.0" stroke-dashoffset="0.00"/>
<line x1="897.50" y1="928.65" x2="944.20" y2="928.65" stroke="#80cc58" stroke-width="1.03" stroke-dasharray="6.5 3.0" stroke-dashoffset="2.48"/>
<line x1="944.20" y1="928.65" x2="990.90" y2="928.65" stroke="#80cc58" stroke-width="1.03" stroke-dasharray="6.5 3.0" stroke-dashoffset="1.68"/>
<line x1="990.90" y1="928.65" x2="1037.60" y2="751.95" stroke="#80cc58" stroke-width="1.03" stroke-dasharray="6.5 3.0" stroke-dashoffset="3.65"/>
<line x1="1037.60" y1="751.95" x2="1084.30" y2="928.65" stroke="#80cc58" stroke-width="1.03" stroke-dasharray="6.5 3.0" stroke-dashoffset="5.92"/>
<circle cx="848.47" cy="840.30" r="4.75" fill="#3e26a8"/>
<circle cx="853.77" cy="840.30" r="4.75" fill="#4a5af8"/>
<circle cx="846.78" cy="928.65" r="4.75" fill="#15beb8"/>
<circle cx="850.81" cy="781.40" r="4.75" fill="#80cc58"/>
<circle cx="850.81" cy="928.65" r="4.75" fill="#2a97ec"/>
<circle cx="897.63" cy="751.95" r="4.75" fill="#3e26a8"/>
<circle cx="897.63" cy="810.85" r="4.75" fill="#4a5af8"/>
<circle cx="897.63" cy="781.40" r="4.75" fill="#15beb8"/>
<circle cx="894.45" cy="928.65" r="4.75" fill="#80cc58"/>
<circle cx="897.63" cy="928.65" r="4.75" fill="#2a97ec"/>
<circle cx="940.00" cy="928.65" r="4.75" fill="#80cc58"/>
<circle cx="944.24" cy="781.40" r="4.75" fill="#4a5af8"/>
<circle cx="942.12" cy="928.65" r="4.75" fill="#2a97ec"/>
<circle cx="944.24" cy="751.95" r="4.75" fill="#15beb8"/>
<circle cx="947.42" cy="928.65" r="4.75" fill="#3e26a8"/>
<circle cx="996.14" cy="928.65" r="4.75" fill="#80cc58"/>
<circle cx="990.85" cy="869.75" r="4.75" fill="#3e26a8"/>
<circle cx="986.19" cy="928.65" r="4.75" fill="#15beb8"/>
<circle cx="988.73" cy="928.65" r="4.75" fill="#2a97ec"/>
<circle cx="992.97" cy="928.65" r="4.75" fill="#4a5af8"/>
<circle cx="1037.46" cy="810.85" r="4.75" fill="#3e26a8"/>
<circle cx="1035.34" cy="751.95" r="4.75" fill="#4a5af8"/>
<circle cx="1034.28" cy="928.65" r="4.75" fill="#15beb8"/>
<circle cx="1040.00" cy="751.95" r="4.75" fill="#80cc58"/>
<circle cx="1037.46" cy="928.65" r="4.75" fill="#2a97ec"/>
<circle cx="1079.19" cy="928.65" r="4.75" fill="#15beb8"/>
<circle cx="1084.28" cy="781.40" r="4.75" fill="#3e26a8"/>
<circle cx="1089.36" cy="928.65" r="4.75" fill="#80cc58"/>
<circle cx="1081.95" cy="928.65" r="4.75" fill="#2a97ec"/>
<circle cx="1086.19" cy="928.65" r="4.75" fill="#4a5af8"/>
<rect x="827.70" y="737.20" width="279.80" height="206.30" fill="none" stroke="#000" stroke-width="1.3"/>
<path d="M850.80 737.20v2.5 M850.80 943.50v-2.5 M897.50 737.20v2.5 M897.50 943.50v-2.5 M944.20 737.20v2.5 M944.20 943.50v-2.5 M990.90 737.20v2.5 M990.90 943.50v-2.5 M1037.60 737.20v2.5 M1037.60 943.50v-2.5 M1084.30 737.20v2.5 M1084.30 943.50v-2.5 M827.70 751.95h3.3 M1107.50 751.95h-3.3 M827.70 781.40h3.3 M1107.50 781.40h-3.3 M827.70 810.85h3.3 M1107.50 810.85h-3.3 M827.70 840.30h3.3 M1107.50 840.30h-3.3 M827.70 869.75h3.3 M1107.50 869.75h-3.3 M827.70 899.20h3.3 M1107.50 899.20h-3.3 M827.70 928.65h3.3 M1107.50 928.65h-3.3 " stroke="#000" stroke-width="1" fill="none"/>
<text transform="translate(826.60 967.40) scale(1.0081 1)" x="-1.74" y="0" font-size="21.7" fill="#000" stroke="#000" stroke-width="0.08" xml:space="preserve">Most</text>
<text transform="translate(826.60 991.40) scale(1.0150 1)" x="-0.98" y="0" font-size="21.7" fill="#000" stroke="#000" stroke-width="0.08" xml:space="preserve">Sens.</text>
<text transform="translate(890.98 975.00) scale(1.0000 1)" x="-0.00" y="0" font-size="21.7" fill="#000" stroke="#000" stroke-width="0.08" xml:space="preserve">A</text>
<text transform="translate(939.10 975.00) scale(1.0000 1)" x="-1.74" y="0" font-size="21.7" fill="#000" stroke="#000" stroke-width="0.08" xml:space="preserve">B</text>
<text transform="translate(984.71 975.00) scale(1.0000 1)" x="-1.08" y="0" font-size="21.7" fill="#000" stroke="#000" stroke-width="0.08" xml:space="preserve">C</text>
<text transform="translate(1031.84 975.00) scale(1.0000 1)" x="-1.74" y="0" font-size="21.7" fill="#000" stroke="#000" stroke-width="0.08" xml:space="preserve">D</text>
<text transform="translate(1079.09 975.00) scale(1.0000 1)" x="-1.74" y="0" font-size="21.7" fill="#000" stroke="#000" stroke-width="0.08" xml:space="preserve">E</text>
<text transform="translate(941.05 1003.30) scale(1.0245 1)" x="-0.11" y="0" font-size="21.7" fill="#000" stroke="#000" stroke-width="0.08" xml:space="preserve">Voxel</text>
<text transform="translate(787.36 759.65) scale(0.9850 1)" x="-1.64" y="0" font-size="21.8" fill="#000" stroke="#000" stroke-width="0.08" xml:space="preserve">1st</text>
<text transform="translate(780.92 789.10) scale(0.9850 1)" x="-1.09" y="0" font-size="21.8" fill="#000" stroke="#000" stroke-width="0.08" xml:space="preserve">2nd</text>
<text transform="translate(785.43 818.55) scale(0.9850 1)" x="-0.87" y="0" font-size="21.8" fill="#000" stroke="#000" stroke-width="0.08" xml:space="preserve">3rd</text>
<text transform="translate(786.18 848.00) scale(0.9850 1)" x="-0.44" y="0" font-size="21.8" fill="#000" stroke="#000" stroke-width="0.08" xml:space="preserve">4th</text>
<text transform="translate(786.61 877.45) scale(0.9850 1)" x="-0.87" y="0" font-size="21.8" fill="#000" stroke="#000" stroke-width="0.08" xml:space="preserve">5th</text>
<text transform="translate(786.82 906.90) scale(0.9850 1)" x="-1.09" y="0" font-size="21.8" fill="#000" stroke="#000" stroke-width="0.08" xml:space="preserve">6th</text>
<text transform="translate(787.14 936.35) scale(0.9850 1)" x="-1.74" y="0" font-size="21.8" fill="#000" stroke="#000" stroke-width="0.08" xml:space="preserve">NS</text>
<text transform="translate(761.70 931.90) rotate(-90) scale(1.0148 1)" x="-1.72" y="0" font-size="21.5" fill="#000" stroke="#000" stroke-width="0.08" xml:space="preserve">Ranking — <tspan font-style="italic">t</tspan> -Value</text>
<text transform="translate(922.70 722.90) scale(1.0354 1)" x="-2.10" y="0" font-size="28" fill="#000" stroke="#000" stroke-width="0.35" xml:space="preserve">120 ms</text>
<rect x="1134.60" y="737.20" width="280.40" height="206.30" fill="#fff"/>
<line x1="1139.00" y1="913.80" x2="1412.00" y2="913.80" stroke="#000" stroke-width="2.6" stroke-linecap="round" stroke-dasharray="0.01 7.65"/>
<rect x="1141.90" y="742.20" width="33.00" height="194.90" fill="none" stroke="#10a6e0" stroke-width="3.8"/>
<line x1="1157.70" y1="810.85" x2="1204.48" y2="751.95" stroke="#3e26a8" stroke-width="1.03" stroke-dasharray="6.5 3.0" stroke-dashoffset="0.00"/>
<line x1="1204.48" y1="751.95" x2="1251.26" y2="899.20" stroke="#3e26a8" stroke-width="1.03" stroke-dasharray="6.5 3.0" stroke-dashoffset="8.72"/>
<line x1="1298.04" y1="869.75" x2="1344.82" y2="840.30" stroke="#3e26a8" stroke-width="1.03" stroke-dasharray="6.5 3.0" stroke-dashoffset="9.50"/>
<line x1="1344.82" y1="840.30" x2="1391.60" y2="781.40" stroke="#3e26a8" stroke-width="1.03" stroke-dasharray="6.5 3.0" stroke-dashoffset="7.78"/>
<line x1="1157.70" y1="751.95" x2="1204.48" y2="899.20" stroke="#4a5af8" stroke-width="1.03" stroke-dasharray="6.5 3.0" stroke-dashoffset="0.00"/>
<line x1="1204.48" y1="899.20" x2="1251.26" y2="810.85" stroke="#4a5af8" stroke-width="1.03" stroke-dasharray="6.5 3.0" stroke-dashoffset="2.50"/>
<line x1="1251.26" y1="810.85" x2="1298.04" y2="781.40" stroke="#4a5af8" stroke-width="1.03" stroke-dasharray="6.5 3.0" stroke-dashoffset="7.47"/>
<line x1="1298.04" y1="781.40" x2="1344.82" y2="840.30" stroke="#4a5af8" stroke-width="1.03" stroke-dasharray="6.5 3.0" stroke-dashoffset="5.75"/>
<line x1="1344.82" y1="840.30" x2="1391.60" y2="869.75" stroke="#4a5af8" stroke-width="1.03" stroke-dasharray="6.5 3.0" stroke-dashoffset="4.97"/>
<line x1="1157.70" y1="781.40" x2="1204.48" y2="751.95" stroke="#2a97ec" stroke-width="1.03" stroke-dasharray="6.5 3.0" stroke-dashoffset="0.00"/>
<line x1="1204.48" y1="751.95" x2="1251.26" y2="810.85" stroke="#2a97ec" stroke-width="1.03" stroke-dasharray="6.5 3.0" stroke-dashoffset="7.78"/>
<line x1="1251.26" y1="810.85" x2="1298.04" y2="840.30" stroke="#2a97ec" stroke-width="1.03" stroke-dasharray="6.5 3.0" stroke-dashoffset="6.99"/>
<line x1="1298.04" y1="840.30" x2="1344.82" y2="869.75" stroke="#2a97ec" stroke-width="1.03" stroke-dasharray="6.5 3.0" stroke-dashoffset="5.27"/>
<line x1="1344.82" y1="869.75" x2="1391.60" y2="899.20" stroke="#2a97ec" stroke-width="1.03" stroke-dasharray="6.5 3.0" stroke-dashoffset="3.55"/>
<line x1="1157.70" y1="810.85" x2="1204.48" y2="781.40" stroke="#15beb8" stroke-width="1.03" stroke-dasharray="6.5 3.0" stroke-dashoffset="0.00"/>
<line x1="1204.48" y1="781.40" x2="1251.26" y2="751.95" stroke="#15beb8" stroke-width="1.03" stroke-dasharray="6.5 3.0" stroke-dashoffset="7.78"/>
<line x1="1251.26" y1="751.95" x2="1298.04" y2="869.75" stroke="#15beb8" stroke-width="1.03" stroke-dasharray="6.5 3.0" stroke-dashoffset="6.06"/>
<line x1="1298.04" y1="869.75" x2="1344.82" y2="840.30" stroke="#15beb8" stroke-width="1.03" stroke-dasharray="6.5 3.0" stroke-dashoffset="4.75"/>
<line x1="1344.82" y1="840.30" x2="1391.60" y2="899.20" stroke="#15beb8" stroke-width="1.03" stroke-dasharray="6.5 3.0" stroke-dashoffset="7.58"/>
<line x1="1157.70" y1="781.40" x2="1204.48" y2="840.30" stroke="#80cc58" stroke-width="1.03" stroke-dasharray="6.5 3.0" stroke-dashoffset="0.00"/>
<line x1="1204.48" y1="840.30" x2="1251.26" y2="899.20" stroke="#80cc58" stroke-width="1.03" stroke-dasharray="6.5 3.0" stroke-dashoffset="8.72"/>
<line x1="1251.26" y1="899.20" x2="1298.04" y2="869.75" stroke="#80cc58" stroke-width="1.03" stroke-dasharray="6.5 3.0" stroke-dashoffset="7.93"/>
<line x1="1298.04" y1="869.75" x2="1344.82" y2="810.85" stroke="#80cc58" stroke-width="1.03" stroke-dasharray="6.5 3.0" stroke-dashoffset="6.21"/>
<line x1="1344.82" y1="810.85" x2="1391.60" y2="751.95" stroke="#80cc58" stroke-width="1.03" stroke-dasharray="6.5 3.0" stroke-dashoffset="5.43"/>
<circle cx="1155.83" cy="810.85" r="4.75" fill="#3e26a8"/>
<circle cx="1157.74" cy="751.95" r="4.75" fill="#4a5af8"/>
<circle cx="1155.83" cy="781.40" r="4.75" fill="#2a97ec"/>
<circle cx="1160.92" cy="810.85" r="4.75" fill="#15beb8"/>
<circle cx="1160.92" cy="781.40" r="4.75" fill="#80cc58"/>
<circle cx="1202.44" cy="751.95" r="4.75" fill="#3e26a8"/>
<circle cx="1204.56" cy="899.20" r="4.75" fill="#4a5af8"/>
<circle cx="1207.10" cy="751.95" r="4.75" fill="#2a97ec"/>
<circle cx="1204.56" cy="781.40" r="4.75" fill="#15beb8"/>
<circle cx="1204.56" cy="840.30" r="4.75" fill="#80cc58"/>
<circle cx="1247.78" cy="810.85" r="4.75" fill="#2a97ec"/>
<circle cx="1249.05" cy="899.20" r="4.75" fill="#3e26a8"/>
<circle cx="1251.59" cy="751.95" r="4.75" fill="#15beb8"/>
<circle cx="1253.71" cy="899.20" r="4.75" fill="#80cc58"/>
<circle cx="1251.59" cy="810.85" r="4.75" fill="#4a5af8"/>
<circle cx="1293.97" cy="869.75" r="4.75" fill="#15beb8"/>
<circle cx="1302.44" cy="869.75" r="4.75" fill="#80cc58"/>
<circle cx="1296.51" cy="781.40" r="4.75" fill="#4a5af8"/>
<circle cx="1298.20" cy="840.30" r="4.75" fill="#2a97ec"/>
<circle cx="1298.20" cy="869.75" r="4.75" fill="#3e26a8"/>
<circle cx="1349.47" cy="840.30" r="4.75" fill="#15beb8"/>
<circle cx="1340.58" cy="840.30" r="4.75" fill="#4a5af8"/>
<circle cx="1344.81" cy="869.75" r="4.75" fill="#2a97ec"/>
<circle cx="1344.81" cy="810.85" r="4.75" fill="#80cc58"/>
<circle cx="1344.81" cy="840.30" r="4.75" fill="#3e26a8"/>
<circle cx="1391.64" cy="781.40" r="4.75" fill="#3e26a8"/>
<circle cx="1391.64" cy="869.75" r="4.75" fill="#4a5af8"/>
<circle cx="1389.31" cy="899.20" r="4.75" fill="#2a97ec"/>
<circle cx="1394.18" cy="899.20" r="4.75" fill="#15beb8"/>
<circle cx="1389.31" cy="751.95" r="4.75" fill="#80cc58"/>
<rect x="1134.60" y="737.20" width="280.40" height="206.30" fill="none" stroke="#000" stroke-width="1.3"/>
<path d="M1157.70 737.20v2.5 M1157.70 943.50v-2.5 M1204.48 737.20v2.5 M1204.48 943.50v-2.5 M1251.26 737.20v2.5 M1251.26 943.50v-2.5 M1298.04 737.20v2.5 M1298.04 943.50v-2.5 M1344.82 737.20v2.5 M1344.82 943.50v-2.5 M1391.60 737.20v2.5 M1391.60 943.50v-2.5 M1134.60 751.95h3.3 M1415.00 751.95h-3.3 M1134.60 781.40h3.3 M1415.00 781.40h-3.3 M1134.60 810.85h3.3 M1415.00 810.85h-3.3 M1134.60 840.30h3.3 M1415.00 840.30h-3.3 M1134.60 869.75h3.3 M1415.00 869.75h-3.3 M1134.60 899.20h3.3 M1415.00 899.20h-3.3 M1134.60 928.65h3.3 M1415.00 928.65h-3.3 " stroke="#000" stroke-width="1" fill="none"/>
<text transform="translate(1137.30 967.40) scale(1.0081 1)" x="-1.74" y="0" font-size="21.7" fill="#000" stroke="#000" stroke-width="0.08" xml:space="preserve">Most</text>
<text transform="translate(1137.30 991.40) scale(1.0150 1)" x="-0.98" y="0" font-size="21.7" fill="#000" stroke="#000" stroke-width="0.08" xml:space="preserve">Sens.</text>
<text transform="translate(1197.96 975.00) scale(1.0000 1)" x="-0.00" y="0" font-size="21.7" fill="#000" stroke="#000" stroke-width="0.08" xml:space="preserve">A</text>
<text transform="translate(1246.16 975.00) scale(1.0000 1)" x="-1.74" y="0" font-size="21.7" fill="#000" stroke="#000" stroke-width="0.08" xml:space="preserve">B</text>
<text transform="translate(1291.85 975.00) scale(1.0000 1)" x="-1.08" y="0" font-size="21.7" fill="#000" stroke="#000" stroke-width="0.08" xml:space="preserve">C</text>
<text transform="translate(1339.06 975.00) scale(1.0000 1)" x="-1.74" y="0" font-size="21.7" fill="#000" stroke="#000" stroke-width="0.08" xml:space="preserve">D</text>
<text transform="translate(1386.39 975.00) scale(1.0000 1)" x="-1.74" y="0" font-size="21.7" fill="#000" stroke="#000" stroke-width="0.08" xml:space="preserve">E</text>
<text transform="translate(1248.15 1003.30) scale(1.0245 1)" x="-0.11" y="0" font-size="21.7" fill="#000" stroke="#000" stroke-width="0.08" xml:space="preserve">Voxel</text>
<text transform="translate(1256.30 722.90) scale(1.0658 1)" x="-1.12" y="0" font-size="28" fill="#000" stroke="#000" stroke-width="0.35" xml:space="preserve">5 s</text>
<rect x="82.70" y="1112.40" width="280.50" height="206.00" fill="#fff"/>
<rect x="90.80" y="1118.40" width="33.20" height="194.50" fill="none" stroke="#10a6e0" stroke-width="3.8"/>
<line x1="152.54" y1="1267.04" x2="199.28" y2="1301.40" stroke="#3e26a8" stroke-width="1.03" stroke-dasharray="6.5 3.0" stroke-dashoffset="7.11"/>
<line x1="199.28" y1="1301.40" x2="246.02" y2="1163.96" stroke="#3e26a8" stroke-width="1.03" stroke-dasharray="6.5 3.0" stroke-dashoffset="8.12"/>
<line x1="246.02" y1="1163.96" x2="292.76" y2="1232.68" stroke="#3e26a8" stroke-width="1.03" stroke-dasharray="6.5 3.0" stroke-dashoffset="1.29"/>
<line x1="292.76" y1="1232.68" x2="339.50" y2="1129.60" stroke="#3e26a8" stroke-width="1.03" stroke-dasharray="6.5 3.0" stroke-dashoffset="8.40"/>
<line x1="105.80" y1="1232.68" x2="152.54" y2="1129.60" stroke="#4a5af8" stroke-width="1.03" stroke-dasharray="6.5 3.0" stroke-dashoffset="0.00"/>
<line x1="152.54" y1="1129.60" x2="199.28" y2="1267.04" stroke="#4a5af8" stroke-width="1.03" stroke-dasharray="6.5 3.0" stroke-dashoffset="8.68"/>
<line x1="199.28" y1="1267.04" x2="246.02" y2="1301.40" stroke="#4a5af8" stroke-width="1.03" stroke-dasharray="6.5 3.0" stroke-dashoffset="1.85"/>
<line x1="246.02" y1="1301.40" x2="292.76" y2="1163.96" stroke="#4a5af8" stroke-width="1.03" stroke-dasharray="6.5 3.0" stroke-dashoffset="2.86"/>
<line x1="105.80" y1="1198.32" x2="152.54" y2="1267.04" stroke="#2a97ec" stroke-width="1.03" stroke-dasharray="6.5 3.0" stroke-dashoffset="0.00"/>
<line x1="152.54" y1="1267.04" x2="199.28" y2="1232.68" stroke="#2a97ec" stroke-width="1.03" stroke-dasharray="6.5 3.0" stroke-dashoffset="7.11"/>
<line x1="199.28" y1="1232.68" x2="246.02" y2="1163.96" stroke="#2a97ec" stroke-width="1.03" stroke-dasharray="6.5 3.0" stroke-dashoffset="8.12"/>
<line x1="246.02" y1="1163.96" x2="292.76" y2="1301.40" stroke="#2a97ec" stroke-width="1.03" stroke-dasharray="6.5 3.0" stroke-dashoffset="5.73"/>
<line x1="292.76" y1="1301.40" x2="339.50" y2="1129.60" stroke="#2a97ec" stroke-width="1.03" stroke-dasharray="6.5 3.0" stroke-dashoffset="8.40"/>
<line x1="105.80" y1="1267.04" x2="152.54" y2="1301.40" stroke="#15beb8" stroke-width="1.03" stroke-dasharray="6.5 3.0" stroke-dashoffset="0.00"/>
<line x1="152.54" y1="1301.40" x2="199.28" y2="1129.60" stroke="#15beb8" stroke-width="1.03" stroke-dasharray="6.5 3.0" stroke-dashoffset="1.01"/>
<line x1="199.28" y1="1129.60" x2="246.02" y2="1232.68" stroke="#15beb8" stroke-width="1.03" stroke-dasharray="6.5 3.0" stroke-dashoffset="8.06"/>
<line x1="246.02" y1="1232.68" x2="292.76" y2="1163.96" stroke="#15beb8" stroke-width="1.03" stroke-dasharray="6.5 3.0" stroke-dashoffset="7.24"/>
<line x1="292.76" y1="1163.96" x2="339.50" y2="1198.32" stroke="#15beb8" stroke-width="1.03" stroke-dasharray="6.5 3.0" stroke-dashoffset="4.85"/>
<line x1="105.80" y1="1232.68" x2="152.54" y2="1163.96" stroke="#80cc58" stroke-width="1.03" stroke-dasharray="6.5 3.0" stroke-dashoffset="0.00"/>
<line x1="152.54" y1="1163.96" x2="199.28" y2="1198.32" stroke="#80cc58" stroke-width="1.03" stroke-dasharray="6.5 3.0" stroke-dashoffset="7.11"/>
<line x1="199.28" y1="1198.32" x2="246.02" y2="1301.40" stroke="#80cc58" stroke-width="1.03" stroke-dasharray="6.5 3.0" stroke-dashoffset="8.12"/>
<line x1="246.02" y1="1301.40" x2="292.76" y2="1129.60" stroke="#80cc58" stroke-width="1.03" stroke-dasharray="6.5 3.0" stroke-dashoffset="7.30"/>
<line x1="292.76" y1="1129.60" x2="339.50" y2="1267.04" stroke="#80cc58" stroke-width="1.03" stroke-dasharray="6.5 3.0" stroke-dashoffset="4.85"/>
<circle cx="103.90" cy="1198.32" r="4.75" fill="#3e26a8"/>
<circle cx="103.90" cy="1232.68" r="4.75" fill="#4a5af8"/>
<circle cx="108.98" cy="1198.32" r="4.75" fill="#2a97ec"/>
<circle cx="105.81" cy="1267.04" r="4.75" fill="#15beb8"/>
<circle cx="108.98" cy="1232.68" r="4.75" fill="#80cc58"/>
<circle cx="150.51" cy="1267.04" r="4.75" fill="#3e26a8"/>
<circle cx="152.63" cy="1129.60" r="4.75" fill="#4a5af8"/>
<circle cx="155.17" cy="1267.04" r="4.75" fill="#2a97ec"/>
<circle cx="152.63" cy="1301.40" r="4.75" fill="#15beb8"/>
<circle cx="152.63" cy="1163.96" r="4.75" fill="#80cc58"/>
<circle cx="199.45" cy="1301.40" r="4.75" fill="#3e26a8"/>
<circle cx="199.45" cy="1267.04" r="4.75" fill="#4a5af8"/>
<circle cx="199.45" cy="1232.68" r="4.75" fill="#2a97ec"/>
<circle cx="199.45" cy="1129.60" r="4.75" fill="#15beb8"/>
<circle cx="199.45" cy="1198.32" r="4.75" fill="#80cc58"/>
<circle cx="243.73" cy="1163.96" r="4.75" fill="#3e26a8"/>
<circle cx="243.73" cy="1301.40" r="4.75" fill="#4a5af8"/>
<circle cx="248.60" cy="1163.96" r="4.75" fill="#2a97ec"/>
<circle cx="245.85" cy="1232.68" r="4.75" fill="#15beb8"/>
<circle cx="248.60" cy="1301.40" r="4.75" fill="#80cc58"/>
<circle cx="292.67" cy="1232.68" r="4.75" fill="#3e26a8"/>
<circle cx="289.92" cy="1163.96" r="4.75" fill="#4a5af8"/>
<circle cx="290.55" cy="1301.40" r="4.75" fill="#2a97ec"/>
<circle cx="295.42" cy="1163.96" r="4.75" fill="#15beb8"/>
<circle cx="292.67" cy="1129.60" r="4.75" fill="#80cc58"/>
<circle cx="335.25" cy="1198.32" r="4.75" fill="#15beb8"/>
<circle cx="336.95" cy="1129.60" r="4.75" fill="#3e26a8"/>
<circle cx="342.03" cy="1129.60" r="4.75" fill="#2a97ec"/>
<circle cx="339.49" cy="1267.04" r="4.75" fill="#80cc58"/>
<circle cx="339.49" cy="1198.32" r="4.75" fill="#4a5af8"/>
<rect x="82.70" y="1112.40" width="280.50" height="206.00" fill="none" stroke="#000" stroke-width="1.3"/>
<path d="M105.80 1112.40v2.5 M105.80 1318.40v-2.5 M152.54 1112.40v2.5 M152.54 1318.40v-2.5 M199.28 1112.40v2.5 M199.28 1318.40v-2.5 M246.02 1112.40v2.5 M246.02 1318.40v-2.5 M292.76 1112.40v2.5 M292.76 1318.40v-2.5 M339.50 1112.40v2.5 M339.50 1318.40v-2.5 M82.70 1129.60h3.3 M363.20 1129.60h-3.3 M82.70 1163.96h3.3 M363.20 1163.96h-3.3 M82.70 1198.32h3.3 M363.20 1198.32h-3.3 M82.70 1232.68h3.3 M363.20 1232.68h-3.3 M82.70 1267.04h3.3 M363.20 1267.04h-3.3 M82.70 1301.40h3.3 M363.20 1301.40h-3.3 " stroke="#000" stroke-width="1" fill="none"/>
<text transform="translate(82.40 1342.90) scale(1.0081 1)" x="-1.74" y="0" font-size="21.7" fill="#000" stroke="#000" stroke-width="0.08" xml:space="preserve">Most</text>
<text transform="translate(82.40 1366.90) scale(1.0150 1)" x="-0.98" y="0" font-size="21.7" fill="#000" stroke="#000" stroke-width="0.08" xml:space="preserve">Sens.</text>
<text transform="translate(146.02 1350.50) scale(1.0000 1)" x="-0.00" y="0" font-size="21.7" fill="#000" stroke="#000" stroke-width="0.08" xml:space="preserve">A</text>
<text transform="translate(194.18 1350.50) scale(1.0000 1)" x="-1.74" y="0" font-size="21.7" fill="#000" stroke="#000" stroke-width="0.08" xml:space="preserve">B</text>
<text transform="translate(239.83 1350.50) scale(1.0000 1)" x="-1.08" y="0" font-size="21.7" fill="#000" stroke="#000" stroke-width="0.08" xml:space="preserve">C</text>
<text transform="translate(287.00 1350.50) scale(1.0000 1)" x="-1.74" y="0" font-size="21.7" fill="#000" stroke="#000" stroke-width="0.08" xml:space="preserve">D</text>
<text transform="translate(334.29 1350.50) scale(1.0000 1)" x="-1.74" y="0" font-size="21.7" fill="#000" stroke="#000" stroke-width="0.08" xml:space="preserve">E</text>
<text transform="translate(196.15 1378.80) scale(1.0245 1)" x="-0.11" y="0" font-size="21.7" fill="#000" stroke="#000" stroke-width="0.08" xml:space="preserve">Voxel</text>
<text transform="translate(42.36 1137.30) scale(0.9850 1)" x="-1.64" y="0" font-size="21.8" fill="#000" stroke="#000" stroke-width="0.08" xml:space="preserve">1st</text>
<text transform="translate(35.92 1171.66) scale(0.9850 1)" x="-1.09" y="0" font-size="21.8" fill="#000" stroke="#000" stroke-width="0.08" xml:space="preserve">2nd</text>
<text transform="translate(40.43 1206.02) scale(0.9850 1)" x="-0.87" y="0" font-size="21.8" fill="#000" stroke="#000" stroke-width="0.08" xml:space="preserve">3rd</text>
<text transform="translate(41.18 1240.38) scale(0.9850 1)" x="-0.44" y="0" font-size="21.8" fill="#000" stroke="#000" stroke-width="0.08" xml:space="preserve">4th</text>
<text transform="translate(41.61 1274.74) scale(0.9850 1)" x="-0.87" y="0" font-size="21.8" fill="#000" stroke="#000" stroke-width="0.08" xml:space="preserve">5th</text>
<text transform="translate(41.82 1309.10) scale(0.9850 1)" x="-1.09" y="0" font-size="21.8" fill="#000" stroke="#000" stroke-width="0.08" xml:space="preserve">6th</text>
<text transform="translate(16.70 1293.10) rotate(-90) scale(1.0114 1)" x="-1.72" y="0" font-size="21.5" fill="#000" stroke="#000" stroke-width="0.08" xml:space="preserve">Ranking — AUC</text>
<text transform="translate(178.40 1097.80) scale(1.0252 1)" x="-2.10" y="0" font-size="28" fill="#000" stroke="#000" stroke-width="0.35" xml:space="preserve">120 ms</text>
<rect x="389.70" y="1112.40" width="281.00" height="206.00" fill="#fff"/>
<rect x="395.30" y="1118.40" width="33.00" height="194.50" fill="none" stroke="#10a6e0" stroke-width="3.8"/>
<line x1="413.10" y1="1232.68" x2="459.92" y2="1267.04" stroke="#3e26a8" stroke-width="1.03" stroke-dasharray="6.5 3.0" stroke-dashoffset="0.00"/>
<line x1="459.92" y1="1267.04" x2="506.74" y2="1301.40" stroke="#3e26a8" stroke-width="1.03" stroke-dasharray="6.5 3.0" stroke-dashoffset="1.08"/>
<line x1="506.74" y1="1301.40" x2="553.56" y2="1198.32" stroke="#3e26a8" stroke-width="1.03" stroke-dasharray="6.5 3.0" stroke-dashoffset="2.15"/>
<line x1="553.56" y1="1198.32" x2="600.38" y2="1129.60" stroke="#3e26a8" stroke-width="1.03" stroke-dasharray="6.5 3.0" stroke-dashoffset="1.37"/>
<line x1="600.38" y1="1129.60" x2="647.20" y2="1163.96" stroke="#3e26a8" stroke-width="1.03" stroke-dasharray="6.5 3.0" stroke-dashoffset="8.52"/>
<line x1="413.10" y1="1163.96" x2="459.92" y2="1129.60" stroke="#4a5af8" stroke-width="1.03" stroke-dasharray="6.5 3.0" stroke-dashoffset="0.00"/>
<line x1="459.92" y1="1129.60" x2="506.74" y2="1232.68" stroke="#4a5af8" stroke-width="1.03" stroke-dasharray="6.5 3.0" stroke-dashoffset="1.08"/>
<line x1="506.74" y1="1232.68" x2="553.56" y2="1198.32" stroke="#4a5af8" stroke-width="1.03" stroke-dasharray="6.5 3.0" stroke-dashoffset="0.29"/>
<line x1="553.56" y1="1198.32" x2="600.38" y2="1267.04" stroke="#4a5af8" stroke-width="1.03" stroke-dasharray="6.5 3.0" stroke-dashoffset="1.37"/>
<line x1="600.38" y1="1267.04" x2="647.20" y2="1301.40" stroke="#4a5af8" stroke-width="1.03" stroke-dasharray="6.5 3.0" stroke-dashoffset="8.52"/>
<line x1="413.10" y1="1267.04" x2="459.92" y2="1129.60" stroke="#2a97ec" stroke-width="1.03" stroke-dasharray="6.5 3.0" stroke-dashoffset="0.00"/>
<line x1="459.92" y1="1129.60" x2="506.74" y2="1198.32" stroke="#2a97ec" stroke-width="1.03" stroke-dasharray="6.5 3.0" stroke-dashoffset="2.70"/>
<line x1="506.74" y1="1198.32" x2="553.56" y2="1163.96" stroke="#2a97ec" stroke-width="1.03" stroke-dasharray="6.5 3.0" stroke-dashoffset="0.35"/>
<line x1="553.56" y1="1163.96" x2="600.38" y2="1301.40" stroke="#2a97ec" stroke-width="1.03" stroke-dasharray="6.5 3.0" stroke-dashoffset="1.42"/>
<line x1="600.38" y1="1301.40" x2="647.20" y2="1232.68" stroke="#2a97ec" stroke-width="1.03" stroke-dasharray="6.5 3.0" stroke-dashoffset="4.12"/>
<line x1="459.92" y1="1232.68" x2="506.74" y2="1129.60" stroke="#15beb8" stroke-width="1.03" stroke-dasharray="6.5 3.0" stroke-dashoffset="1.08"/>
<line x1="506.74" y1="1129.60" x2="553.56" y2="1163.96" stroke="#15beb8" stroke-width="1.03" stroke-dasharray="6.5 3.0" stroke-dashoffset="0.29"/>
<line x1="553.56" y1="1163.96" x2="600.38" y2="1301.40" stroke="#15beb8" stroke-width="1.03" stroke-dasharray="6.5 3.0" stroke-dashoffset="6.17"/>
<line x1="600.38" y1="1301.40" x2="647.20" y2="1267.04" stroke="#15beb8" stroke-width="1.03" stroke-dasharray="6.5 3.0" stroke-dashoffset="4.06"/>
<line x1="413.10" y1="1198.32" x2="459.92" y2="1232.68" stroke="#80cc58" stroke-width="1.03" stroke-dasharray="6.5 3.0" stroke-dashoffset="0.00"/>
<line x1="459.92" y1="1232.68" x2="506.74" y2="1163.96" stroke="#80cc58" stroke-width="1.03" stroke-dasharray="6.5 3.0" stroke-dashoffset="1.08"/>
<line x1="506.74" y1="1163.96" x2="553.56" y2="1301.40" stroke="#80cc58" stroke-width="1.03" stroke-dasharray="6.5 3.0" stroke-dashoffset="8.23"/>
<line x1="553.56" y1="1301.40" x2="600.38" y2="1129.60" stroke="#80cc58" stroke-width="1.03" stroke-dasharray="6.5 3.0" stroke-dashoffset="1.42"/>
<line x1="600.38" y1="1129.60" x2="647.20" y2="1267.04" stroke="#80cc58" stroke-width="1.03" stroke-dasharray="6.5 3.0" stroke-dashoffset="8.49"/>
<circle cx="409.66" cy="1198.32" r="4.75" fill="#80cc58"/>
<circle cx="413.05" cy="1232.68" r="4.75" fill="#3e26a8"/>
<circle cx="413.05" cy="1163.96" r="4.75" fill="#4a5af8"/>
<circle cx="413.05" cy="1267.04" r="4.75" fill="#2a97ec"/>
<circle cx="413.05" cy="1198.32" r="4.75" fill="#15beb8"/>
<circle cx="457.75" cy="1267.04" r="4.75" fill="#3e26a8"/>
<circle cx="458.39" cy="1129.60" r="4.75" fill="#4a5af8"/>
<circle cx="462.20" cy="1129.60" r="4.75" fill="#2a97ec"/>
<circle cx="457.54" cy="1232.68" r="4.75" fill="#15beb8"/>
<circle cx="462.20" cy="1232.68" r="4.75" fill="#80cc58"/>
<circle cx="506.69" cy="1301.40" r="4.75" fill="#3e26a8"/>
<circle cx="504.58" cy="1232.68" r="4.75" fill="#4a5af8"/>
<circle cx="506.69" cy="1198.32" r="4.75" fill="#2a97ec"/>
<circle cx="506.69" cy="1129.60" r="4.75" fill="#15beb8"/>
<circle cx="506.69" cy="1163.96" r="4.75" fill="#80cc58"/>
<circle cx="550.55" cy="1163.96" r="4.75" fill="#15beb8"/>
<circle cx="551.19" cy="1198.32" r="4.75" fill="#3e26a8"/>
<circle cx="555.85" cy="1198.32" r="4.75" fill="#4a5af8"/>
<circle cx="553.52" cy="1163.96" r="4.75" fill="#2a97ec"/>
<circle cx="553.52" cy="1301.40" r="4.75" fill="#80cc58"/>
<circle cx="596.10" cy="1301.40" r="4.75" fill="#15beb8"/>
<circle cx="598.22" cy="1129.60" r="4.75" fill="#3e26a8"/>
<circle cx="600.34" cy="1267.04" r="4.75" fill="#4a5af8"/>
<circle cx="600.34" cy="1301.40" r="4.75" fill="#2a97ec"/>
<circle cx="603.09" cy="1129.60" r="4.75" fill="#80cc58"/>
<circle cx="647.16" cy="1163.96" r="4.75" fill="#3e26a8"/>
<circle cx="647.16" cy="1301.40" r="4.75" fill="#4a5af8"/>
<circle cx="647.16" cy="1232.68" r="4.75" fill="#2a97ec"/>
<circle cx="644.41" cy="1267.04" r="4.75" fill="#15beb8"/>
<circle cx="649.49" cy="1267.04" r="4.75" fill="#80cc58"/>
<rect x="389.70" y="1112.40" width="281.00" height="206.00" fill="none" stroke="#000" stroke-width="1.3"/>
<path d="M413.10 1112.40v2.5 M413.10 1318.40v-2.5 M459.92 1112.40v2.5 M459.92 1318.40v-2.5 M506.74 1112.40v2.5 M506.74 1318.40v-2.5 M553.56 1112.40v2.5 M553.56 1318.40v-2.5 M600.38 1112.40v2.5 M600.38 1318.40v-2.5 M647.20 1112.40v2.5 M647.20 1318.40v-2.5 M389.70 1129.60h3.3 M670.70 1129.60h-3.3 M389.70 1163.96h3.3 M670.70 1163.96h-3.3 M389.70 1198.32h3.3 M670.70 1198.32h-3.3 M389.70 1232.68h3.3 M670.70 1232.68h-3.3 M389.70 1267.04h3.3 M670.70 1267.04h-3.3 M389.70 1301.40h3.3 M670.70 1301.40h-3.3 " stroke="#000" stroke-width="1" fill="none"/>
<text transform="translate(392.40 1342.90) scale(1.0081 1)" x="-1.74" y="0" font-size="21.7" fill="#000" stroke="#000" stroke-width="0.08" xml:space="preserve">Most</text>
<text transform="translate(392.40 1366.90) scale(1.0150 1)" x="-0.98" y="0" font-size="21.7" fill="#000" stroke="#000" stroke-width="0.08" xml:space="preserve">Sens.</text>
<text transform="translate(453.40 1350.50) scale(1.0000 1)" x="-0.00" y="0" font-size="21.7" fill="#000" stroke="#000" stroke-width="0.08" xml:space="preserve">A</text>
<text transform="translate(501.64 1350.50) scale(1.0000 1)" x="-1.74" y="0" font-size="21.7" fill="#000" stroke="#000" stroke-width="0.08" xml:space="preserve">B</text>
<text transform="translate(547.37 1350.50) scale(1.0000 1)" x="-1.08" y="0" font-size="21.7" fill="#000" stroke="#000" stroke-width="0.08" xml:space="preserve">C</text>
<text transform="translate(594.62 1350.50) scale(1.0000 1)" x="-1.74" y="0" font-size="21.7" fill="#000" stroke="#000" stroke-width="0.08" xml:space="preserve">D</text>
<text transform="translate(641.99 1350.50) scale(1.0000 1)" x="-1.74" y="0" font-size="21.7" fill="#000" stroke="#000" stroke-width="0.08" xml:space="preserve">E</text>
<text transform="translate(503.65 1378.80) scale(1.0245 1)" x="-0.11" y="0" font-size="21.7" fill="#000" stroke="#000" stroke-width="0.08" xml:space="preserve">Voxel</text>
<text transform="translate(511.60 1097.80) scale(1.0544 1)" x="-1.12" y="0" font-size="28" fill="#000" stroke="#000" stroke-width="0.35" xml:space="preserve">5 s</text>
<rect x="827.70" y="1111.40" width="279.80" height="206.05" fill="#fff"/>
<line x1="832.10" y1="1287.10" x2="1104.50" y2="1287.10" stroke="#000" stroke-width="2.6" stroke-linecap="round" stroke-dasharray="0.01 7.65"/>
<rect x="834.90" y="1118.40" width="33.10" height="194.50" fill="none" stroke="#10a6e0" stroke-width="3.8"/>
<line x1="850.80" y1="1126.00" x2="897.50" y2="1155.42" stroke="#4a5af8" stroke-width="1.03" stroke-dasharray="6.5 3.0" stroke-dashoffset="0.00"/>
<line x1="897.50" y1="1155.42" x2="944.20" y2="1302.52" stroke="#4a5af8" stroke-width="1.03" stroke-dasharray="6.5 3.0" stroke-dashoffset="7.69"/>
<line x1="944.20" y1="1302.52" x2="990.90" y2="1302.52" stroke="#4a5af8" stroke-width="1.03" stroke-dasharray="6.5 3.0" stroke-dashoffset="0.53"/>
<line x1="990.90" y1="1302.52" x2="1037.60" y2="1184.84" stroke="#4a5af8" stroke-width="1.03" stroke-dasharray="6.5 3.0" stroke-dashoffset="9.23"/>
<line x1="1037.60" y1="1184.84" x2="1084.30" y2="1302.52" stroke="#4a5af8" stroke-width="1.03" stroke-dasharray="6.5 3.0" stroke-dashoffset="2.84"/>
<line x1="850.80" y1="1302.20" x2="1084.30" y2="1302.20" stroke="#ffc04d" stroke-width="1.03" stroke-dasharray="6.5 3.0"/>
<circle cx="850.81" cy="1126.00" r="4.75" fill="#4a5af8"/>
<circle cx="850.81" cy="1297.37" r="4.75" fill="#2a97ec"/>
<circle cx="845.30" cy="1302.46" r="4.75" fill="#80cc58"/>
<circle cx="855.89" cy="1302.46" r="4.75" fill="#15beb8"/>
<circle cx="850.81" cy="1302.46" r="4.75" fill="#3e26a8"/>
<circle cx="897.63" cy="1155.42" r="4.75" fill="#4a5af8"/>
<circle cx="897.63" cy="1298.22" r="4.75" fill="#2a97ec"/>
<circle cx="891.69" cy="1302.46" r="4.75" fill="#80cc58"/>
<circle cx="902.92" cy="1302.46" r="4.75" fill="#15beb8"/>
<circle cx="897.20" cy="1302.46" r="4.75" fill="#3e26a8"/>
<circle cx="947.42" cy="1299.07" r="4.75" fill="#4a5af8"/>
<circle cx="941.27" cy="1299.92" r="4.75" fill="#2a97ec"/>
<circle cx="938.73" cy="1304.58" r="4.75" fill="#80cc58"/>
<circle cx="948.90" cy="1304.15" r="4.75" fill="#15beb8"/>
<circle cx="944.03" cy="1304.58" r="4.75" fill="#3e26a8"/>
<circle cx="994.03" cy="1299.07" r="4.75" fill="#4a5af8"/>
<circle cx="987.67" cy="1299.49" r="4.75" fill="#2a97ec"/>
<circle cx="985.13" cy="1304.58" r="4.75" fill="#80cc58"/>
<circle cx="995.72" cy="1304.58" r="4.75" fill="#15beb8"/>
<circle cx="990.64" cy="1304.58" r="4.75" fill="#3e26a8"/>
<circle cx="1037.46" cy="1184.84" r="4.75" fill="#4a5af8"/>
<circle cx="1035.97" cy="1297.37" r="4.75" fill="#2a97ec"/>
<circle cx="1031.74" cy="1302.46" r="4.75" fill="#80cc58"/>
<circle cx="1040.64" cy="1302.46" r="4.75" fill="#15beb8"/>
<circle cx="1036.40" cy="1302.46" r="4.75" fill="#3e26a8"/>
<circle cx="1087.25" cy="1299.28" r="4.75" fill="#4a5af8"/>
<circle cx="1081.31" cy="1299.49" r="4.75" fill="#2a97ec"/>
<circle cx="1078.98" cy="1304.58" r="4.75" fill="#80cc58"/>
<circle cx="1090.42" cy="1304.58" r="4.75" fill="#15beb8"/>
<circle cx="1084.28" cy="1304.58" r="4.75" fill="#3e26a8"/>
<rect x="827.70" y="1111.40" width="279.80" height="206.05" fill="none" stroke="#000" stroke-width="1.3"/>
<path d="M850.80 1111.40v2.5 M850.80 1317.45v-2.5 M897.50 1111.40v2.5 M897.50 1317.45v-2.5 M944.20 1111.40v2.5 M944.20 1317.45v-2.5 M990.90 1111.40v2.5 M990.90 1317.45v-2.5 M1037.60 1111.40v2.5 M1037.60 1317.45v-2.5 M1084.30 1111.40v2.5 M1084.30 1317.45v-2.5 M827.70 1126.00h3.3 M1107.50 1126.00h-3.3 M827.70 1155.42h3.3 M1107.50 1155.42h-3.3 M827.70 1184.84h3.3 M1107.50 1184.84h-3.3 M827.70 1214.26h3.3 M1107.50 1214.26h-3.3 M827.70 1243.68h3.3 M1107.50 1243.68h-3.3 M827.70 1273.10h3.3 M1107.50 1273.10h-3.3 M827.70 1302.52h3.3 M1107.50 1302.52h-3.3 " stroke="#000" stroke-width="1" fill="none"/>
<text transform="translate(826.60 1342.90) scale(1.0081 1)" x="-1.74" y="0" font-size="21.7" fill="#000" stroke="#000" stroke-width="0.08" xml:space="preserve">Most</text>
<text transform="translate(826.60 1366.90) scale(1.0150 1)" x="-0.98" y="0" font-size="21.7" fill="#000" stroke="#000" stroke-width="0.08" xml:space="preserve">Sens.</text>
<text transform="translate(890.98 1350.50) scale(1.0000 1)" x="-0.00" y="0" font-size="21.7" fill="#000" stroke="#000" stroke-width="0.08" xml:space="preserve">A</text>
<text transform="translate(939.10 1350.50) scale(1.0000 1)" x="-1.74" y="0" font-size="21.7" fill="#000" stroke="#000" stroke-width="0.08" xml:space="preserve">B</text>
<text transform="translate(984.71 1350.50) scale(1.0000 1)" x="-1.08" y="0" font-size="21.7" fill="#000" stroke="#000" stroke-width="0.08" xml:space="preserve">C</text>
<text transform="translate(1031.84 1350.50) scale(1.0000 1)" x="-1.74" y="0" font-size="21.7" fill="#000" stroke="#000" stroke-width="0.08" xml:space="preserve">D</text>
<text transform="translate(1079.09 1350.50) scale(1.0000 1)" x="-1.74" y="0" font-size="21.7" fill="#000" stroke="#000" stroke-width="0.08" xml:space="preserve">E</text>
<text transform="translate(941.05 1378.80) scale(1.0245 1)" x="-0.11" y="0" font-size="21.7" fill="#000" stroke="#000" stroke-width="0.08" xml:space="preserve">Voxel</text>
<text transform="translate(787.36 1133.70) scale(0.9850 1)" x="-1.64" y="0" font-size="21.8" fill="#000" stroke="#000" stroke-width="0.08" xml:space="preserve">1st</text>
<text transform="translate(780.92 1163.12) scale(0.9850 1)" x="-1.09" y="0" font-size="21.8" fill="#000" stroke="#000" stroke-width="0.08" xml:space="preserve">2nd</text>
<text transform="translate(785.43 1192.54) scale(0.9850 1)" x="-0.87" y="0" font-size="21.8" fill="#000" stroke="#000" stroke-width="0.08" xml:space="preserve">3rd</text>
<text transform="translate(786.18 1221.96) scale(0.9850 1)" x="-0.44" y="0" font-size="21.8" fill="#000" stroke="#000" stroke-width="0.08" xml:space="preserve">4th</text>
<text transform="translate(786.61 1251.38) scale(0.9850 1)" x="-0.87" y="0" font-size="21.8" fill="#000" stroke="#000" stroke-width="0.08" xml:space="preserve">5th</text>
<text transform="translate(786.82 1280.80) scale(0.9850 1)" x="-1.09" y="0" font-size="21.8" fill="#000" stroke="#000" stroke-width="0.08" xml:space="preserve">6th</text>
<text transform="translate(787.14 1310.22) scale(0.9850 1)" x="-1.74" y="0" font-size="21.8" fill="#000" stroke="#000" stroke-width="0.08" xml:space="preserve">NS</text>
<text transform="translate(761.70 1306.30) rotate(-90) scale(1.0148 1)" x="-1.72" y="0" font-size="21.5" fill="#000" stroke="#000" stroke-width="0.08" xml:space="preserve">Ranking — <tspan font-style="italic">t</tspan> -Value</text>
<text transform="translate(922.70 1097.80) scale(1.0354 1)" x="-2.10" y="0" font-size="28" fill="#000" stroke="#000" stroke-width="0.35" xml:space="preserve">120 ms</text>
<rect x="1134.60" y="1111.40" width="280.40" height="206.05" fill="#fff"/>
<line x1="1139.00" y1="1287.10" x2="1412.00" y2="1287.10" stroke="#000" stroke-width="2.6" stroke-linecap="round" stroke-dasharray="0.01 7.65"/>
<rect x="1141.90" y="1118.40" width="33.00" height="194.50" fill="none" stroke="#10a6e0" stroke-width="3.8"/>
<line x1="1157.70" y1="1184.84" x2="1204.48" y2="1126.00" stroke="#3e26a8" stroke-width="1.03" stroke-dasharray="6.5 3.0" stroke-dashoffset="0.00"/>
<line x1="1204.48" y1="1126.00" x2="1251.26" y2="1273.10" stroke="#3e26a8" stroke-width="1.03" stroke-dasharray="6.5 3.0" stroke-dashoffset="8.67"/>
<line x1="1251.26" y1="1273.10" x2="1298.04" y2="1155.42" stroke="#3e26a8" stroke-width="1.03" stroke-dasharray="6.5 3.0" stroke-dashoffset="1.53"/>
<line x1="1298.04" y1="1155.42" x2="1344.82" y2="1243.68" stroke="#3e26a8" stroke-width="1.03" stroke-dasharray="6.5 3.0" stroke-dashoffset="4.67"/>
<line x1="1344.82" y1="1243.68" x2="1391.60" y2="1214.26" stroke="#3e26a8" stroke-width="1.03" stroke-dasharray="6.5 3.0" stroke-dashoffset="0.06"/>
<line x1="1157.70" y1="1126.00" x2="1204.48" y2="1184.84" stroke="#4a5af8" stroke-width="1.03" stroke-dasharray="6.5 3.0" stroke-dashoffset="0.00"/>
<line x1="1204.48" y1="1184.84" x2="1251.26" y2="1214.26" stroke="#4a5af8" stroke-width="1.03" stroke-dasharray="6.5 3.0" stroke-dashoffset="8.67"/>
<line x1="1251.26" y1="1214.26" x2="1298.04" y2="1243.68" stroke="#4a5af8" stroke-width="1.03" stroke-dasharray="6.5 3.0" stroke-dashoffset="6.93"/>
<line x1="1298.04" y1="1243.68" x2="1344.82" y2="1155.42" stroke="#4a5af8" stroke-width="1.03" stroke-dasharray="6.5 3.0" stroke-dashoffset="5.19"/>
<line x1="1344.82" y1="1155.42" x2="1391.60" y2="1273.10" stroke="#4a5af8" stroke-width="1.03" stroke-dasharray="6.5 3.0" stroke-dashoffset="0.59"/>
<line x1="1157.70" y1="1302.52" x2="1204.48" y2="1126.00" stroke="#2a97ec" stroke-width="1.03" stroke-dasharray="6.5 3.0" stroke-dashoffset="0.00"/>
<line x1="1204.48" y1="1126.00" x2="1251.26" y2="1184.84" stroke="#2a97ec" stroke-width="1.03" stroke-dasharray="6.5 3.0" stroke-dashoffset="2.11"/>
<line x1="1298.04" y1="1214.26" x2="1344.82" y2="1302.52" stroke="#2a97ec" stroke-width="1.03" stroke-dasharray="6.5 3.0" stroke-dashoffset="9.05"/>
<line x1="1344.82" y1="1302.52" x2="1391.60" y2="1155.42" stroke="#2a97ec" stroke-width="1.03" stroke-dasharray="6.5 3.0" stroke-dashoffset="4.44"/>
<line x1="1157.70" y1="1126.00" x2="1204.48" y2="1155.42" stroke="#15beb8" stroke-width="1.03" stroke-dasharray="6.5 3.0" stroke-dashoffset="0.00"/>
<line x1="1204.48" y1="1155.42" x2="1251.26" y2="1184.84" stroke="#15beb8" stroke-width="1.03" stroke-dasharray="6.5 3.0" stroke-dashoffset="7.76"/>
<line x1="1251.26" y1="1184.84" x2="1298.04" y2="1214.26" stroke="#15beb8" stroke-width="1.03" stroke-dasharray="6.5 3.0" stroke-dashoffset="6.02"/>
<line x1="1298.04" y1="1214.26" x2="1344.82" y2="1302.52" stroke="#15beb8" stroke-width="1.03" stroke-dasharray="6.5 3.0" stroke-dashoffset="4.30"/>
<line x1="1344.82" y1="1302.52" x2="1391.60" y2="1243.68" stroke="#15beb8" stroke-width="1.03" stroke-dasharray="6.5 3.0" stroke-dashoffset="9.18"/>
<line x1="1157.70" y1="1155.42" x2="1204.48" y2="1302.52" stroke="#80cc58" stroke-width="1.03" stroke-dasharray="6.5 3.0" stroke-dashoffset="0.00"/>
<line x1="1204.48" y1="1302.52" x2="1251.26" y2="1302.52" stroke="#80cc58" stroke-width="1.03" stroke-dasharray="6.5 3.0" stroke-dashoffset="2.36"/>
<line x1="1251.26" y1="1302.52" x2="1298.04" y2="1302.52" stroke="#80cc58" stroke-width="1.03" stroke-dasharray="6.5 3.0" stroke-dashoffset="1.64"/>
<line x1="1298.04" y1="1302.52" x2="1344.82" y2="1126.00" stroke="#80cc58" stroke-width="1.03" stroke-dasharray="6.5 3.0" stroke-dashoffset="0.92"/>
<line x1="1344.82" y1="1126.00" x2="1391.60" y2="1302.52" stroke="#80cc58" stroke-width="1.03" stroke-dasharray="6.5 3.0" stroke-dashoffset="3.03"/>
<circle cx="1157.74" cy="1184.84" r="4.75" fill="#3e26a8"/>
<circle cx="1155.83" cy="1126.00" r="4.75" fill="#4a5af8"/>
<circle cx="1156.68" cy="1302.52" r="4.75" fill="#2a97ec"/>
<circle cx="1160.49" cy="1126.00" r="4.75" fill="#15beb8"/>
<circle cx="1157.74" cy="1155.42" r="4.75" fill="#80cc58"/>
<circle cx="1202.44" cy="1126.00" r="4.75" fill="#3e26a8"/>
<circle cx="1204.56" cy="1184.84" r="4.75" fill="#4a5af8"/>
<circle cx="1207.10" cy="1126.00" r="4.75" fill="#2a97ec"/>
<circle cx="1204.56" cy="1155.42" r="4.75" fill="#15beb8"/>
<circle cx="1202.02" cy="1302.52" r="4.75" fill="#80cc58"/>
<circle cx="1251.59" cy="1273.10" r="4.75" fill="#3e26a8"/>
<circle cx="1251.59" cy="1214.26" r="4.75" fill="#4a5af8"/>
<circle cx="1249.47" cy="1184.84" r="4.75" fill="#2a97ec"/>
<circle cx="1253.71" cy="1184.84" r="4.75" fill="#15beb8"/>
<circle cx="1249.90" cy="1302.52" r="4.75" fill="#80cc58"/>
<circle cx="1298.20" cy="1155.42" r="4.75" fill="#3e26a8"/>
<circle cx="1298.20" cy="1243.68" r="4.75" fill="#4a5af8"/>
<circle cx="1296.51" cy="1214.26" r="4.75" fill="#2a97ec"/>
<circle cx="1301.38" cy="1214.26" r="4.75" fill="#15beb8"/>
<circle cx="1296.51" cy="1302.52" r="4.75" fill="#80cc58"/>
<circle cx="1341.00" cy="1302.52" r="4.75" fill="#15beb8"/>
<circle cx="1344.81" cy="1243.68" r="4.75" fill="#3e26a8"/>
<circle cx="1344.81" cy="1155.42" r="4.75" fill="#4a5af8"/>
<circle cx="1344.81" cy="1302.52" r="4.75" fill="#2a97ec"/>
<circle cx="1344.81" cy="1126.00" r="4.75" fill="#80cc58"/>
<circle cx="1391.64" cy="1214.26" r="4.75" fill="#3e26a8"/>
<circle cx="1391.64" cy="1273.10" r="4.75" fill="#4a5af8"/>
<circle cx="1391.64" cy="1155.42" r="4.75" fill="#2a97ec"/>
<circle cx="1391.64" cy="1243.68" r="4.75" fill="#15beb8"/>
<circle cx="1389.94" cy="1302.52" r="4.75" fill="#80cc58"/>
<rect x="1134.60" y="1111.40" width="280.40" height="206.05" fill="none" stroke="#000" stroke-width="1.3"/>
<path d="M1157.70 1111.40v2.5 M1157.70 1317.45v-2.5 M1204.48 1111.40v2.5 M1204.48 1317.45v-2.5 M1251.26 1111.40v2.5 M1251.26 1317.45v-2.5 M1298.04 1111.40v2.5 M1298.04 1317.45v-2.5 M1344.82 1111.40v2.5 M1344.82 1317.45v-2.5 M1391.60 1111.40v2.5 M1391.60 1317.45v-2.5 M1134.60 1126.00h3.3 M1415.00 1126.00h-3.3 M1134.60 1155.42h3.3 M1415.00 1155.42h-3.3 M1134.60 1184.84h3.3 M1415.00 1184.84h-3.3 M1134.60 1214.26h3.3 M1415.00 1214.26h-3.3 M1134.60 1243.68h3.3 M1415.00 1243.68h-3.3 M1134.60 1273.10h3.3 M1415.00 1273.10h-3.3 M1134.60 1302.52h3.3 M1415.00 1302.52h-3.3 " stroke="#000" stroke-width="1" fill="none"/>
<text transform="translate(1137.30 1342.90) scale(1.0081 1)" x="-1.74" y="0" font-size="21.7" fill="#000" stroke="#000" stroke-width="0.08" xml:space="preserve">Most</text>
<text transform="translate(1137.30 1366.90) scale(1.0150 1)" x="-0.98" y="0" font-size="21.7" fill="#000" stroke="#000" stroke-width="0.08" xml:space="preserve">Sens.</text>
<text transform="translate(1197.96 1350.50) scale(1.0000 1)" x="-0.00" y="0" font-size="21.7" fill="#000" stroke="#000" stroke-width="0.08" xml:space="preserve">A</text>
<text transform="translate(1246.16 1350.50) scale(1.0000 1)" x="-1.74" y="0" font-size="21.7" fill="#000" stroke="#000" stroke-width="0.08" xml:space="preserve">B</text>
<text transform="translate(1291.85 1350.50) scale(1.0000 1)" x="-1.08" y="0" font-size="21.7" fill="#000" stroke="#000" stroke-width="0.08" xml:space="preserve">C</text>
<text transform="translate(1339.06 1350.50) scale(1.0000 1)" x="-1.74" y="0" font-size="21.7" fill="#000" stroke="#000" stroke-width="0.08" xml:space="preserve">D</text>
<text transform="translate(1386.39 1350.50) scale(1.0000 1)" x="-1.74" y="0" font-size="21.7" fill="#000" stroke="#000" stroke-width="0.08" xml:space="preserve">E</text>
<text transform="translate(1248.15 1378.80) scale(1.0245 1)" x="-0.11" y="0" font-size="21.7" fill="#000" stroke="#000" stroke-width="0.08" xml:space="preserve">Voxel</text>
<text transform="translate(1256.30 1097.80) scale(1.0658 1)" x="-1.12" y="0" font-size="28" fill="#000" stroke="#000" stroke-width="0.35" xml:space="preserve">5 s</text>
<rect x="622.4" y="984.6" width="197.3" height="99.1" fill="#fff" stroke="#000" stroke-width="1.3"/>
<text transform="translate(687.40 1005.40) scale(1.0024 1)" x="-1.76" y="0" font-size="22.0" fill="#000" stroke="#000" stroke-width="0.08" xml:space="preserve">Mouse</text>
<line x1="625.80" y1="1019.20" x2="683.40" y2="1019.20" stroke="#3e26a8" stroke-width="1.25" stroke-dasharray="10.0 5.9"/>
<circle cx="655.60" cy="1019.20" r="7.6" fill="#3e26a8"/>
<text transform="translate(690.00 1026.60) scale(1.0000 1)" x="-0.11" y="0" font-size="21.6" fill="#000" stroke="#000" stroke-width="0.08" xml:space="preserve">#1</text>
<line x1="625.80" y1="1045.40" x2="683.40" y2="1045.40" stroke="#4a5af8" stroke-width="1.25" stroke-dasharray="10.0 5.9"/>
<circle cx="655.60" cy="1045.40" r="7.6" fill="#4a5af8"/>
<text transform="translate(690.00 1052.80) scale(1.0000 1)" x="-0.11" y="0" font-size="21.6" fill="#000" stroke="#000" stroke-width="0.08" xml:space="preserve">#2</text>
<line x1="625.80" y1="1071.50" x2="683.40" y2="1071.50" stroke="#2a97ec" stroke-width="1.25" stroke-dasharray="10.0 5.9"/>
<circle cx="655.60" cy="1071.50" r="7.6" fill="#2a97ec"/>
<text transform="translate(690.00 1078.90) scale(1.0000 1)" x="-0.11" y="0" font-size="21.6" fill="#000" stroke="#000" stroke-width="0.08" xml:space="preserve">#3</text>
<line x1="724.20" y1="1018.30" x2="781.70" y2="1018.30" stroke="#15beb8" stroke-width="1.25" stroke-dasharray="10.0 5.9"/>
<circle cx="753.60" cy="1018.30" r="7.6" fill="#15beb8"/>
<text transform="translate(788.30 1025.50) scale(1.0000 1)" x="-0.11" y="0" font-size="21.6" fill="#000" stroke="#000" stroke-width="0.08" xml:space="preserve">#4</text>
<line x1="724.20" y1="1044.40" x2="781.70" y2="1044.40" stroke="#80cc58" stroke-width="1.25" stroke-dasharray="10.0 5.9"/>
<circle cx="753.60" cy="1044.40" r="7.6" fill="#80cc58"/>
<text transform="translate(788.30 1051.60) scale(1.0000 1)" x="-0.11" y="0" font-size="21.6" fill="#000" stroke="#000" stroke-width="0.08" xml:space="preserve">#5</text>
</svg>
</body>
</html>
